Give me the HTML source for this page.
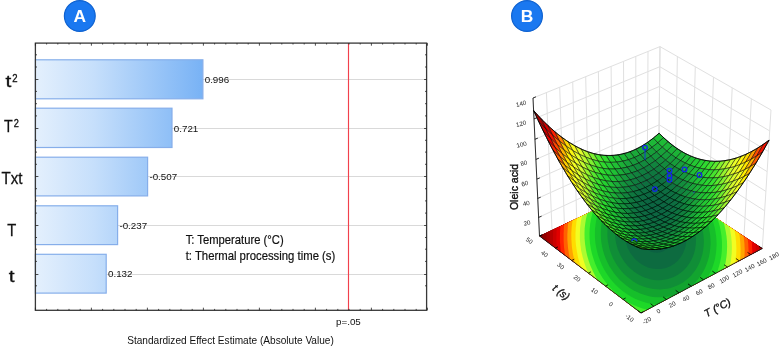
<!DOCTYPE html>
<html><head><meta charset="utf-8"><title>Figure</title>
<style>html,body{margin:0;padding:0;background:#fff}svg{display:block}</style></head>
<body><svg width="779" height="346" viewBox="0 0 779 346">
<rect width="779" height="346" fill="#fff"/>
<path d="M539.5,236.0 L658.5,180.0 L762.3,248.5 M538.6,217.4 L658.7,161.9 L763.5,229.8 M537.7,198.4 L658.9,143.5 L764.7,210.8 M536.8,179.1 L659.2,124.8 L765.9,191.4 M535.9,159.4 L659.4,105.8 L767.1,171.6 M534.9,139.3 L659.6,86.4 L768.4,151.5 M534.0,118.9 L659.8,66.7 L769.7,130.9 M533.0,98.0 L660.0,46.6 L771.0,110.0 M539.5,236.0 L533.0,98.0 M552.0,230.1 L546.4,92.6 M564.4,224.3 L559.7,87.2 M576.7,218.5 L572.7,81.9 M588.8,212.8 L585.7,76.7 M600.7,207.2 L598.4,71.5 M612.5,201.6 L611.1,66.4 M624.2,196.1 L623.5,61.4 M635.8,190.7 L635.8,56.4 M647.2,185.3 L648.0,51.5 M658.5,180.0 L660.0,46.6 M762.3,248.5 L771.0,110.0 M744.0,236.4 L751.4,98.8 M726.1,224.6 L732.2,87.8 M708.7,213.1 L713.5,77.2 M691.6,201.8 L695.3,66.7 M674.9,190.8 L677.4,56.6 M658.5,180.0 L660.0,46.6" fill="none" stroke="#e0e0e0" stroke-width="1"/>
<clipPath id="fc"><polygon points="641.0,313.0 762.3,248.5 658.5,180.0 539.5,236.0"/></clipPath>
<g clip-path="url(#fc)">
<polygon points="641.0,313.0 762.3,248.5 658.5,180.0 539.5,236.0" fill="#880000"/>
<polygon points="669.1,387.8 659.2,387.6 649.3,386.6 639.4,384.7 629.7,382.0 620.1,378.4 610.9,374.2 601.9,369.1 593.3,363.4 585.1,357.1 577.4,350.1 570.3,342.6 563.6,334.7 557.6,326.3 552.1,317.5 547.3,308.5 543.2,299.2 539.6,289.8 536.8,280.3 534.5,270.6 533.0,261.0 532.0,251.4 531.7,241.9 532.0,232.6 532.9,223.4 534.3,214.5 536.3,205.8 538.8,197.3 541.9,189.2 545.4,181.5 549.3,174.1 553.7,167.0 558.5,160.4 563.6,154.3 569.1,148.5 574.9,143.2 581.0,138.4 587.4,134.0 594.0,130.1 600.8,126.7 607.9,123.8 615.0,121.4 622.4,119.5 629.8,118.2 637.3,117.3 644.9,116.9 652.6,117.0 660.2,117.7 667.9,118.8 675.5,120.5 683.0,122.6 690.5,125.3 697.9,128.4 705.1,132.0 712.2,136.2 719.1,140.8 725.8,145.8 732.2,151.3 738.4,157.3 744.2,163.7 749.8,170.5 755.0,177.7 759.8,185.2 764.2,193.1 768.2,201.4 771.7,209.9 774.7,218.7 777.2,227.8 779.1,237.0 780.5,246.4 781.2,255.9 781.4,265.5 780.9,275.1 779.8,284.7 778.0,294.2 775.5,303.5 772.4,312.6 768.6,321.5 764.1,330.1 759.0,338.3 753.2,346.0 746.9,353.3 739.9,359.9 732.5,366.0 724.5,371.4 716.1,376.1 707.2,380.1 698.1,383.2 688.6,385.6 678.9,387.1" fill="#880000"/>
<polygon points="668.8,383.8 659.1,383.6 649.4,382.6 639.8,380.8 630.3,378.2 621.0,374.8 612.0,370.6 603.2,365.7 594.9,360.1 586.9,354.0 579.4,347.2 572.4,339.9 565.9,332.2 560.0,324.0 554.7,315.5 550.0,306.7 545.9,297.7 542.4,288.5 539.6,279.2 537.4,269.8 535.8,260.4 534.9,251.1 534.5,241.8 534.8,232.6 535.6,223.7 537.0,214.9 538.9,206.4 541.4,198.1 544.3,190.2 547.7,182.6 551.6,175.4 555.9,168.5 560.5,162.0 565.5,155.9 570.9,150.3 576.6,145.1 582.6,140.4 588.8,136.1 595.3,132.3 601.9,128.9 608.8,126.1 615.9,123.7 623.0,121.9 630.3,120.5 637.7,119.6 645.1,119.2 652.6,119.4 660.1,120.0 667.6,121.1 675.1,122.8 682.5,124.9 689.8,127.5 697.0,130.6 704.1,134.1 711.0,138.2 717.8,142.7 724.3,147.7 730.6,153.1 736.6,158.9 742.4,165.2 747.8,171.8 752.9,178.9 757.6,186.3 761.9,194.0 765.7,202.1 769.1,210.5 772.0,219.1 774.5,227.9 776.3,237.0 777.6,246.1 778.3,255.4 778.5,264.8 778.0,274.2 776.8,283.5 775.0,292.7 772.6,301.8 769.5,310.8 765.8,319.4 761.4,327.7 756.4,335.7 750.8,343.2 744.6,350.3 737.8,356.8 730.5,362.7 722.7,367.9 714.5,372.5 705.9,376.3 697.0,379.4 687.8,381.7 678.3,383.2" fill="#880000"/>
<polygon points="668.4,379.8 659.0,379.6 649.6,378.6 640.3,376.9 631.0,374.3 622.0,371.0 613.2,367.0 604.6,362.2 596.5,356.8 588.7,350.8 581.4,344.3 574.5,337.2 568.2,329.7 562.4,321.7 557.2,313.5 552.6,304.9 548.6,296.1 545.2,287.2 542.4,278.1 540.3,268.9 538.7,259.8 537.8,250.7 537.4,241.6 537.6,232.7 538.4,223.9 539.8,215.4 541.6,207.0 544.0,199.0 546.8,191.2 550.2,183.8 553.9,176.7 558.1,170.0 562.6,163.6 567.5,157.7 572.7,152.1 578.3,147.0 584.1,142.4 590.2,138.2 596.6,134.5 603.1,131.2 609.8,128.4 616.7,126.1 623.7,124.2 630.8,122.9 638.1,122.0 645.3,121.7 652.7,121.8 660.0,122.4 667.3,123.5 674.6,125.1 681.9,127.2 689.1,129.8 696.1,132.8 703.1,136.3 709.8,140.3 716.4,144.7 722.8,149.5 729.0,154.8 734.9,160.6 740.5,166.7 745.8,173.2 750.7,180.1 755.3,187.4 759.5,195.0 763.2,202.8 766.5,211.0 769.3,219.4 771.7,228.1 773.5,236.9 774.7,245.9 775.4,254.9 775.5,264.1 775.0,273.2 773.8,282.3 772.1,291.3 769.7,300.2 766.6,308.8 763.0,317.2 758.7,325.4 753.8,333.1 748.3,340.4 742.2,347.3 735.6,353.6 728.5,359.3 720.9,364.4 712.9,368.8 704.6,372.5 695.9,375.5 686.9,377.7 677.7,379.2" fill="#880000"/>
<polygon points="668.0,375.7 658.9,375.5 649.8,374.6 640.7,372.9 631.7,370.4 622.9,367.2 614.3,363.3 606.1,358.7 598.1,353.4 590.5,347.6 583.4,341.3 576.7,334.4 570.6,327.1 564.9,319.4 559.9,311.4 555.3,303.0 551.4,294.5 548.1,285.8 545.4,277.0 543.2,268.1 541.7,259.1 540.7,250.3 540.4,241.4 540.6,232.7 541.3,224.2 542.6,215.8 544.4,207.7 546.7,199.8 549.4,192.3 552.6,185.0 556.3,178.0 560.3,171.5 564.8,165.3 569.5,159.4 574.6,154.0 580.1,149.0 585.7,144.5 591.7,140.4 597.9,136.7 604.3,133.5 610.8,130.8 617.6,128.5 624.4,126.7 631.4,125.4 638.4,124.5 645.6,124.2 652.7,124.3 659.9,124.9 667.1,126.0 674.2,127.6 681.3,129.6 688.3,132.1 695.2,135.1 702.0,138.5 708.6,142.4 715.0,146.7 721.3,151.5 727.3,156.7 733.0,162.3 738.5,168.3 743.6,174.7 748.5,181.4 752.9,188.5 757.0,195.9 760.6,203.6 763.8,211.6 766.6,219.8 768.8,228.2 770.5,236.8 771.7,245.6 772.3,254.4 772.4,263.3 771.9,272.2 770.8,281.1 769.0,289.8 766.7,298.4 763.7,306.9 760.1,315.0 755.9,322.9 751.1,330.4 745.8,337.5 739.9,344.2 733.4,350.3 726.5,355.8 719.1,360.8 711.3,365.1 703.2,368.7 694.7,371.6 686.0,373.7 677.1,375.1" fill="#880000"/>
<polygon points="667.7,371.5 658.8,371.4 649.9,370.5 641.1,368.8 632.4,366.4 623.9,363.3 615.5,359.5 607.5,355.1 599.8,350.0 592.4,344.4 585.5,338.2 579.0,331.5 573.0,324.5 567.5,317.0 562.5,309.2 558.1,301.1 554.3,292.9 551.0,284.4 548.3,275.8 546.2,267.2 544.7,258.5 543.8,249.8 543.4,241.3 543.6,232.8 544.3,224.5 545.5,216.3 547.2,208.4 549.4,200.7 552.1,193.3 555.2,186.2 558.7,179.5 562.7,173.0 567.0,167.0 571.6,161.3 576.6,156.0 581.9,151.1 587.4,146.6 593.2,142.6 599.2,139.0 605.5,135.9 611.9,133.2 618.4,131.0 625.1,129.2 632.0,127.9 638.8,127.1 645.8,126.8 652.8,126.9 659.8,127.5 666.8,128.5 673.8,130.1 680.7,132.1 687.5,134.5 694.3,137.4 700.9,140.8 707.3,144.6 713.6,148.8 719.7,153.5 725.5,158.6 731.1,164.0 736.5,169.9 741.5,176.1 746.2,182.7 750.5,189.7 754.4,196.9 758.0,204.4 761.1,212.2 763.7,220.2 765.9,228.4 767.5,236.8 768.6,245.3 769.2,253.9 769.3,262.5 768.7,271.2 767.6,279.8 765.9,288.3 763.6,296.7 760.7,304.9 757.2,312.8 753.1,320.4 748.4,327.7 743.2,334.6 737.4,341.0 731.2,346.9 724.4,352.3 717.3,357.1 709.7,361.3 701.8,364.7 693.6,367.5 685.1,369.6 676.4,371.0" fill="#930000"/>
<polygon points="667.3,367.3 658.7,367.1 650.1,366.2 641.6,364.6 633.1,362.3 624.8,359.3 616.8,355.7 609.0,351.4 601.5,346.5 594.3,341.0 587.6,335.1 581.3,328.6 575.5,321.8 570.1,314.6 565.3,307.0 561.0,299.2 557.2,291.2 554.0,283.0 551.4,274.6 549.4,266.2 547.8,257.8 546.9,249.4 546.5,241.1 546.6,232.9 547.3,224.8 548.5,216.8 550.1,209.1 552.2,201.6 554.8,194.4 557.8,187.5 561.3,180.9 565.1,174.6 569.3,168.7 573.8,163.2 578.6,158.0 583.7,153.2 589.1,148.9 594.8,144.9 600.6,141.4 606.7,138.4 613.0,135.8 619.4,133.6 625.9,131.9 632.5,130.6 639.3,129.8 646.0,129.4 652.9,129.6 659.7,130.1 666.5,131.2 673.3,132.7 680.1,134.6 686.7,137.0 693.3,139.9 699.7,143.1 706.0,146.9 712.1,151.0 718.1,155.6 723.8,160.5 729.2,165.9 734.4,171.6 739.2,177.7 743.8,184.1 748.0,190.8 751.8,197.9 755.2,205.2 758.2,212.8 760.8,220.6 762.8,228.6 764.4,236.7 765.5,245.0 766.0,253.4 766.1,261.8 765.5,270.2 764.4,278.5 762.7,286.8 760.4,294.9 757.6,302.8 754.2,310.5 750.2,317.9 745.6,324.9 740.5,331.6 734.9,337.8 728.9,343.5 722.3,348.7 715.4,353.3 708.0,357.4 700.3,360.7 692.4,363.4 684.2,365.4 675.8,366.7" fill="#a50000"/>
<polygon points="666.9,362.9 658.6,362.8 650.3,361.9 642.0,360.4 633.9,358.1 625.8,355.3 618.0,351.7 610.5,347.6 603.2,342.9 596.3,337.6 589.8,331.9 583.7,325.7 578.0,319.0 572.8,312.1 568.1,304.8 563.9,297.2 560.3,289.4 557.1,281.5 554.6,273.4 552.5,265.3 551.1,257.1 550.1,249.0 549.7,240.9 549.8,232.9 550.4,225.0 551.5,217.3 553.1,209.8 555.2,202.6 557.7,195.6 560.6,188.8 563.9,182.4 567.6,176.3 571.6,170.5 576.0,165.1 580.7,160.1 585.7,155.4 590.9,151.2 596.4,147.3 602.1,143.9 608.0,140.9 614.1,138.4 620.3,136.3 626.7,134.6 633.1,133.3 639.7,132.6 646.3,132.2 652.9,132.3 659.6,132.9 666.2,133.9 672.9,135.4 679.4,137.3 685.9,139.6 692.3,142.4 698.6,145.6 704.7,149.2 710.6,153.3 716.4,157.7 721.9,162.5 727.2,167.7 732.2,173.3 736.9,179.2 741.3,185.5 745.4,192.1 749.1,198.9 752.4,206.1 755.3,213.4 757.7,221.0 759.7,228.8 761.2,236.7 762.3,244.7 762.8,252.8 762.7,261.0 762.2,269.1 761.1,277.2 759.4,285.2 757.2,293.0 754.4,300.7 751.1,308.1 747.2,315.3 742.8,322.1 737.8,328.5 732.4,334.5 726.5,340.0 720.2,345.0 713.4,349.5 706.3,353.4 698.9,356.6 691.2,359.2 683.2,361.1 675.1,362.4" fill="#b70000"/>
<polygon points="666.5,358.5 658.5,358.3 650.5,357.5 642.5,356.0 634.6,353.9 626.9,351.1 619.3,347.7 612.0,343.7 605.0,339.2 598.3,334.1 592.0,328.6 586.1,322.6 580.6,316.2 575.5,309.5 571.0,302.5 566.9,295.2 563.4,287.7 560.3,280.0 557.8,272.2 555.8,264.3 554.4,256.4 553.4,248.5 553.0,240.7 553.1,233.0 553.7,225.3 554.7,217.9 556.2,210.6 558.2,203.5 560.6,196.7 563.4,190.2 566.6,183.9 570.1,178.0 574.1,172.4 578.3,167.1 582.8,162.2 587.7,157.7 592.8,153.6 598.1,149.8 603.6,146.5 609.4,143.6 615.3,141.1 621.3,139.0 627.5,137.4 633.8,136.2 640.1,135.4 646.5,135.1 653.0,135.2 659.5,135.7 665.9,136.7 672.4,138.2 678.7,140.0 685.1,142.3 691.3,145.0 697.3,148.1 703.3,151.6 709.0,155.6 714.6,159.9 720.0,164.6 725.1,169.7 730.0,175.1 734.5,180.9 738.8,187.0 742.7,193.3 746.3,200.0 749.5,206.9 752.2,214.1 754.6,221.4 756.5,229.0 758.0,236.6 758.9,244.4 759.4,252.2 759.3,260.1 758.8,268.0 757.7,275.8 756.0,283.5 753.9,291.1 751.2,298.5 747.9,305.7 744.1,312.6 739.8,319.1 735.1,325.3 729.8,331.1 724.1,336.4 718.0,341.3 711.4,345.6 704.6,349.3 697.4,352.4 689.9,354.9 682.3,356.8 674.4,358.0" fill="#cc0000"/>
<polygon points="666.1,353.9 658.4,353.8 650.6,353.0 643.0,351.6 635.4,349.5 627.9,346.8 620.6,343.6 613.6,339.8 606.8,335.4 600.4,330.5 594.3,325.2 588.6,319.5 583.2,313.3 578.4,306.8 574.0,300.1 570.0,293.0 566.6,285.8 563.6,278.4 561.2,270.9 559.2,263.3 557.8,255.7 556.8,248.1 556.4,240.5 556.5,233.0 557.0,225.7 558.0,218.4 559.4,211.4 561.3,204.6 563.6,197.9 566.3,191.6 569.4,185.5 572.8,179.8 576.6,174.3 580.7,169.2 585.1,164.5 589.7,160.1 594.7,156.0 599.8,152.4 605.2,149.2 610.7,146.3 616.5,143.9 622.3,141.9 628.3,140.3 634.4,139.1 640.6,138.4 646.8,138.1 653.1,138.2 659.4,138.7 665.6,139.7 671.9,141.1 678.0,142.9 684.2,145.1 690.2,147.7 696.1,150.7 701.8,154.2 707.4,158.0 712.8,162.2 718.0,166.8 722.9,171.7 727.6,177.0 732.1,182.6 736.2,188.5 739.9,194.7 743.4,201.1 746.4,207.8 749.1,214.7 751.4,221.9 753.2,229.1 754.6,236.6 755.5,244.1 755.9,251.7 755.8,259.3 755.3,266.9 754.2,274.4 752.6,281.9 750.5,289.2 747.8,296.3 744.7,303.2 741.0,309.8 736.8,316.1 732.2,322.1 727.1,327.7 721.6,332.8 715.7,337.4 709.4,341.5 702.8,345.1 695.8,348.1 688.7,350.5 681.3,352.3 673.7,353.4" fill="#e20000"/>
<polygon points="665.7,349.2 658.3,349.1 650.8,348.4 643.5,347.0 636.2,345.0 629.0,342.5 622.0,339.3 615.2,335.7 608.7,331.5 602.5,326.8 596.6,321.7 591.1,316.2 586.0,310.3 581.3,304.1 577.0,297.6 573.2,290.9 569.9,283.9 567.0,276.8 564.6,269.6 562.7,262.3 561.3,254.9 560.4,247.6 559.9,240.3 560.0,233.1 560.4,226.0 561.4,219.0 562.8,212.2 564.5,205.6 566.7,199.2 569.3,193.1 572.3,187.2 575.6,181.6 579.2,176.3 583.2,171.4 587.4,166.8 591.9,162.5 596.7,158.6 601.6,155.1 606.8,152.0 612.2,149.2 617.7,146.9 623.4,144.9 629.2,143.4 635.1,142.2 641.1,141.5 647.1,141.2 653.2,141.3 659.2,141.8 665.3,142.7 671.3,144.1 677.3,145.8 683.2,148.0 689.0,150.5 694.7,153.5 700.3,156.8 705.7,160.5 710.9,164.6 715.9,169.0 720.7,173.8 725.2,178.9 729.5,184.3 733.4,190.0 737.1,196.0 740.4,202.3 743.3,208.7 745.9,215.4 748.0,222.3 749.8,229.3 751.1,236.5 751.9,243.7 752.3,251.1 752.2,258.4 751.6,265.7 750.6,273.0 749.0,280.1 746.9,287.1 744.4,294.0 741.3,300.6 737.8,307.0 733.7,313.0 729.3,318.8 724.4,324.1 719.0,329.0 713.3,333.4 707.3,337.4 700.9,340.8 694.3,343.7 687.4,346.0 680.3,347.7 673.0,348.8" fill="#ff2400"/>
<polygon points="665.2,344.4 658.1,344.3 651.0,343.6 644.0,342.3 637.0,340.4 630.1,337.9 623.4,335.0 616.9,331.5 610.7,327.5 604.7,323.0 599.0,318.2 593.7,312.9 588.8,307.3 584.3,301.3 580.2,295.1 576.5,288.6 573.3,282.0 570.5,275.2 568.2,268.2 566.3,261.2 565.0,254.2 564.0,247.1 563.6,240.1 563.6,233.2 564.0,226.3 564.9,219.6 566.2,213.0 567.9,206.7 570.0,200.5 572.5,194.6 575.3,188.9 578.5,183.5 582.0,178.5 585.8,173.7 589.8,169.2 594.2,165.1 598.7,161.3 603.5,157.9 608.5,154.9 613.7,152.2 619.0,149.9 624.5,148.0 630.1,146.5 635.8,145.4 641.6,144.7 647.4,144.4 653.2,144.5 659.1,145.0 665.0,145.9 670.8,147.2 676.6,148.9 682.3,151.0 687.9,153.5 693.4,156.3 698.7,159.6 703.9,163.1 708.9,167.1 713.8,171.4 718.4,176.0 722.7,180.9 726.8,186.1 730.6,191.7 734.1,197.4 737.2,203.5 740.0,209.7 742.5,216.2 744.5,222.8 746.2,229.6 747.4,236.4 748.2,243.4 748.6,250.4 748.4,257.5 747.9,264.5 746.8,271.4 745.3,278.3 743.3,285.1 740.8,291.6 737.8,298.0 734.4,304.1 730.5,309.9 726.2,315.3 721.5,320.4 716.4,325.1 710.9,329.3 705.1,333.1 699.0,336.4 692.6,339.1 686.0,341.3 679.2,342.9 672.3,344.0" fill="#ff6100"/>
<polygon points="664.8,339.4 658.0,339.3 651.2,338.6 644.5,337.4 637.8,335.6 631.2,333.3 624.8,330.5 618.6,327.1 612.7,323.3 607.0,319.1 601.6,314.5 596.5,309.4 591.8,304.1 587.4,298.4 583.5,292.5 579.9,286.3 576.8,279.9 574.1,273.4 571.9,266.8 570.1,260.1 568.8,253.4 567.9,246.6 567.4,239.9 567.4,233.2 567.8,226.7 568.6,220.2 569.8,213.9 571.4,207.8 573.4,201.9 575.8,196.2 578.5,190.7 581.5,185.6 584.8,180.7 588.5,176.0 592.4,171.8 596.5,167.8 600.9,164.1 605.5,160.9 610.3,157.9 615.3,155.3 620.4,153.1 625.7,151.3 631.1,149.9 636.5,148.8 642.1,148.1 647.7,147.8 653.3,147.9 659.0,148.4 664.6,149.3 670.2,150.5 675.8,152.2 681.2,154.2 686.6,156.6 691.9,159.3 697.1,162.4 702.1,165.9 706.9,169.7 711.5,173.8 715.9,178.3 720.1,183.0 724.0,188.1 727.6,193.4 731.0,198.9 734.0,204.7 736.6,210.7 739.0,216.9 740.9,223.3 742.5,229.8 743.6,236.4 744.4,243.0 744.7,249.8 744.5,256.5 744.0,263.2 742.9,269.9 741.4,276.5 739.5,282.9 737.1,289.2 734.2,295.2 731.0,301.0 727.2,306.5 723.1,311.8 718.6,316.6 713.7,321.1 708.5,325.1 702.9,328.7 697.1,331.8 691.0,334.4 684.6,336.5 678.1,338.0 671.5,339.0" fill="#ffa400"/>
<polygon points="664.3,334.3 657.9,334.2 651.4,333.5 645.0,332.3 638.7,330.7 632.4,328.5 626.3,325.8 620.4,322.6 614.7,319.0 609.3,315.0 604.2,310.6 599.3,305.8 594.8,300.8 590.6,295.4 586.9,289.7 583.5,283.9 580.5,277.8 577.9,271.6 575.8,265.3 574.0,258.9 572.7,252.5 571.8,246.1 571.4,239.7 571.3,233.3 571.7,227.0 572.4,220.9 573.6,214.8 575.1,209.0 577.0,203.3 579.2,197.9 581.8,192.6 584.7,187.7 587.9,183.0 591.3,178.5 595.0,174.4 599.0,170.6 603.2,167.1 607.6,163.9 612.2,161.1 617.0,158.7 621.9,156.5 626.9,154.8 632.1,153.4 637.3,152.4 642.6,151.7 648.0,151.4 653.4,151.5 658.8,152.0 664.2,152.8 669.6,154.0 674.9,155.6 680.2,157.5 685.3,159.8 690.4,162.5 695.3,165.5 700.1,168.8 704.7,172.4 709.1,176.4 713.3,180.7 717.3,185.2 721.1,190.1 724.5,195.2 727.7,200.5 730.5,206.0 733.1,211.8 735.3,217.7 737.1,223.8 738.6,230.0 739.7,236.3 740.3,242.7 740.6,249.1 740.5,255.5 739.9,261.9 738.9,268.3 737.4,274.5 735.5,280.6 733.2,286.6 730.5,292.3 727.4,297.9 723.8,303.1 719.9,308.1 715.5,312.7 710.9,316.9 705.9,320.7 700.6,324.1 695.0,327.0 689.2,329.5 683.2,331.5 677.0,332.9 670.7,333.9" fill="#ffdc00"/>
<polygon points="663.9,328.9 657.8,328.8 651.7,328.2 645.6,327.1 639.6,325.5 633.7,323.4 627.9,320.9 622.3,317.9 616.9,314.5 611.8,310.8 606.9,306.6 602.3,302.1 598.0,297.3 594.0,292.2 590.4,286.9 587.2,281.3 584.3,275.6 581.9,269.7 579.8,263.8 578.1,257.7 576.9,251.6 576.0,245.5 575.5,239.4 575.5,233.4 575.8,227.4 576.5,221.5 577.6,215.8 579.0,210.2 580.8,204.8 582.9,199.6 585.3,194.6 588.0,189.9 591.0,185.4 594.3,181.2 597.9,177.2 601.6,173.6 605.6,170.2 609.8,167.2 614.2,164.5 618.7,162.1 623.4,160.1 628.2,158.4 633.1,157.1 638.1,156.1 643.2,155.5 648.3,155.2 653.5,155.3 658.7,155.8 663.8,156.6 668.9,157.7 674.0,159.2 679.0,161.1 684.0,163.3 688.8,165.8 693.5,168.7 698.0,171.9 702.4,175.3 706.6,179.1 710.6,183.2 714.4,187.6 718.0,192.2 721.2,197.0 724.2,202.1 726.9,207.4 729.3,212.9 731.4,218.5 733.1,224.3 734.5,230.2 735.5,236.2 736.1,242.3 736.4,248.4 736.2,254.5 735.6,260.5 734.6,266.6 733.2,272.5 731.4,278.3 729.2,283.9 726.6,289.4 723.6,294.6 720.2,299.5 716.5,304.2 712.4,308.5 707.9,312.5 703.2,316.1 698.2,319.3 692.9,322.1 687.4,324.4 681.7,326.3 675.9,327.7 669.9,328.5" fill="#f2fd22"/>
<polygon points="663.4,323.3 657.6,323.2 651.9,322.7 646.2,321.6 640.5,320.1 634.9,318.2 629.5,315.8 624.2,313.0 619.2,309.9 614.3,306.3 609.7,302.4 605.4,298.2 601.3,293.7 597.6,288.9 594.2,283.9 591.1,278.7 588.4,273.3 586.0,267.8 584.1,262.1 582.5,256.4 581.2,250.7 580.4,244.9 579.9,239.2 579.9,233.4 580.1,227.8 580.8,222.3 581.8,216.8 583.1,211.5 584.7,206.4 586.7,201.5 589.0,196.8 591.6,192.3 594.4,188.0 597.5,184.0 600.8,180.2 604.4,176.7 608.2,173.6 612.2,170.7 616.3,168.1 620.6,165.9 625.1,163.9 629.6,162.3 634.3,161.0 639.0,160.1 643.8,159.5 648.7,159.3 653.6,159.3 658.5,159.8 663.4,160.5 668.3,161.6 673.1,163.1 677.8,164.8 682.5,166.9 687.1,169.3 691.5,172.1 695.8,175.1 700.0,178.4 704.0,182.0 707.8,185.9 711.3,190.0 714.7,194.4 717.8,199.0 720.6,203.9 723.1,208.9 725.4,214.1 727.3,219.4 728.9,224.9 730.2,230.5 731.1,236.1 731.7,241.9 731.9,247.6 731.7,253.4 731.1,259.1 730.2,264.8 728.8,270.3 727.1,275.8 725.0,281.1 722.5,286.2 719.7,291.1 716.5,295.8 712.9,300.2 709.0,304.2 704.9,308.0 700.4,311.3 695.7,314.3 690.7,316.9 685.5,319.1 680.2,320.9 674.7,322.1 669.0,323.0" fill="#acfb30"/>
<polygon points="662.8,317.5 657.5,317.4 652.1,316.8 646.8,315.9 641.5,314.5 636.3,312.7 631.2,310.5 626.3,307.9 621.6,304.9 617.0,301.6 612.7,298.0 608.6,294.1 604.8,289.9 601.3,285.4 598.1,280.7 595.2,275.9 592.7,270.8 590.4,265.7 588.6,260.4 587.0,255.1 585.9,249.7 585.1,244.3 584.6,238.9 584.5,233.5 584.7,228.2 585.3,223.0 586.2,217.9 587.4,212.9 589.0,208.1 590.8,203.5 592.9,199.0 595.3,194.8 598.0,190.7 600.9,186.9 604.0,183.4 607.4,180.1 610.9,177.1 614.7,174.4 618.6,172.0 622.6,169.8 626.8,168.0 631.1,166.5 635.5,165.3 640.0,164.4 644.5,163.8 649.1,163.6 653.7,163.7 658.3,164.1 662.9,164.8 667.5,165.8 672.1,167.2 676.5,168.9 680.9,170.8 685.3,173.1 689.4,175.7 693.5,178.6 697.4,181.7 701.1,185.1 704.7,188.8 708.0,192.7 711.2,196.8 714.1,201.2 716.7,205.7 719.1,210.4 721.2,215.3 723.0,220.3 724.5,225.5 725.6,230.7 726.5,236.1 727.0,241.4 727.1,246.8 726.9,252.2 726.4,257.6 725.5,262.9 724.2,268.1 722.5,273.2 720.5,278.1 718.2,282.9 715.5,287.5 712.5,291.8 709.2,295.9 705.5,299.7 701.6,303.2 697.4,306.3 693.0,309.1 688.4,311.5 683.5,313.5 678.5,315.2 673.4,316.3 668.1,317.1" fill="#44ef2c"/>
<polygon points="662.3,311.2 657.3,311.1 652.4,310.6 647.4,309.8 642.5,308.5 637.7,306.8 633.0,304.8 628.5,302.4 624.1,299.7 619.9,296.7 615.9,293.3 612.1,289.7 608.5,285.8 605.3,281.7 602.3,277.4 599.6,272.9 597.2,268.2 595.1,263.5 593.4,258.6 591.9,253.6 590.8,248.6 590.0,243.6 589.6,238.6 589.5,233.6 589.7,228.7 590.2,223.8 591.0,219.1 592.1,214.4 593.5,210.0 595.2,205.6 597.2,201.4 599.4,197.5 601.9,193.7 604.6,190.2 607.5,186.8 610.6,183.8 613.9,181.0 617.4,178.4 621.0,176.1 624.8,174.1 628.7,172.4 632.7,171.0 636.8,169.8 641.0,169.0 645.2,168.5 649.5,168.3 653.8,168.3 658.1,168.7 662.4,169.4 666.7,170.4 671.0,171.6 675.2,173.2 679.3,175.1 683.3,177.2 687.2,179.6 691.0,182.3 694.6,185.2 698.1,188.4 701.4,191.9 704.5,195.5 707.4,199.4 710.1,203.4 712.5,207.7 714.7,212.1 716.6,216.7 718.3,221.3 719.7,226.1 720.7,231.0 721.5,236.0 721.9,241.0 722.0,246.0 721.8,251.0 721.3,255.9 720.4,260.9 719.2,265.7 717.7,270.4 715.8,275.0 713.6,279.4 711.1,283.6 708.3,287.6 705.2,291.4 701.8,294.9 698.2,298.1 694.3,301.0 690.2,303.5 685.9,305.8 681.4,307.6 676.8,309.1 672.0,310.2 667.2,310.9" fill="#1dd828"/>
<polygon points="661.7,304.6 657.2,304.5 652.6,304.0 648.1,303.2 643.7,302.1 639.3,300.6 635.0,298.7 630.8,296.6 626.8,294.1 622.9,291.3 619.3,288.3 615.8,285.0 612.5,281.5 609.5,277.7 606.8,273.8 604.3,269.7 602.1,265.4 600.2,261.1 598.5,256.6 597.2,252.1 596.2,247.5 595.4,242.9 595.0,238.3 594.9,233.7 595.0,229.2 595.5,224.7 596.2,220.3 597.2,216.1 598.5,211.9 600.0,207.9 601.8,204.1 603.8,200.4 606.1,196.9 608.5,193.7 611.2,190.6 614.1,187.7 617.1,185.1 620.3,182.8 623.7,180.7 627.2,178.8 630.7,177.2 634.4,175.9 638.2,174.8 642.1,174.1 646.0,173.6 650.0,173.4 653.9,173.4 657.9,173.8 661.9,174.4 665.9,175.3 669.8,176.5 673.6,178.0 677.4,179.7 681.1,181.7 684.7,183.9 688.2,186.4 691.6,189.1 694.7,192.1 697.8,195.2 700.6,198.6 703.3,202.2 705.7,205.9 708.0,209.8 710.0,213.9 711.7,218.1 713.2,222.4 714.5,226.8 715.4,231.3 716.1,235.9 716.5,240.5 716.6,245.1 716.3,249.6 715.8,254.2 715.0,258.7 713.9,263.1 712.4,267.4 710.7,271.6 708.7,275.6 706.4,279.5 703.8,283.1 700.9,286.5 697.8,289.7 694.5,292.6 690.9,295.3 687.2,297.6 683.3,299.6 679.2,301.3 674.9,302.6 670.6,303.6 666.2,304.3" fill="#16bf2a"/>
<polygon points="661.0,297.3 657.0,297.3 652.9,296.9 648.9,296.2 644.9,295.1 640.9,293.8 637.1,292.1 633.3,290.2 629.7,288.0 626.3,285.5 623.0,282.8 619.8,279.9 616.9,276.7 614.2,273.4 611.7,269.8 609.4,266.2 607.4,262.3 605.7,258.4 604.2,254.4 603.0,250.4 602.0,246.2 601.3,242.1 600.9,237.9 600.8,233.8 600.9,229.7 601.3,225.7 601.9,221.7 602.8,217.9 603.9,214.1 605.3,210.5 606.9,207.0 608.7,203.7 610.7,200.5 613.0,197.5 615.4,194.7 618.0,192.1 620.7,189.8 623.6,187.6 626.6,185.7 629.8,184.0 633.0,182.5 636.4,181.3 639.8,180.4 643.3,179.7 646.9,179.2 650.5,179.0 654.1,179.1 657.7,179.4 661.3,180.0 664.9,180.8 668.5,181.9 672.0,183.2 675.4,184.8 678.7,186.6 682.0,188.6 685.1,190.9 688.2,193.4 691.1,196.1 693.8,198.9 696.4,202.0 698.8,205.3 701.0,208.7 703.0,212.2 704.8,215.9 706.3,219.7 707.7,223.6 708.8,227.6 709.6,231.7 710.2,235.8 710.5,239.9 710.6,244.0 710.3,248.2 709.8,252.3 709.1,256.3 708.0,260.3 706.7,264.1 705.1,267.9 703.3,271.5 701.2,274.9 698.9,278.2 696.3,281.3 693.5,284.1 690.5,286.7 687.3,289.1 683.9,291.1 680.4,292.9 676.7,294.4 672.9,295.6 669.0,296.5 665.1,297.1" fill="#12a42f"/>
<polygon points="660.3,289.4 656.8,289.3 653.2,289.0 649.7,288.3 646.2,287.4 642.8,286.3 639.4,284.9 636.2,283.2 633.0,281.3 630.0,279.1 627.1,276.8 624.3,274.2 621.7,271.4 619.4,268.5 617.2,265.5 615.2,262.3 613.4,258.9 611.8,255.5 610.5,252.0 609.4,248.4 608.6,244.8 607.9,241.2 607.5,237.6 607.4,233.9 607.5,230.3 607.8,226.8 608.3,223.3 609.1,219.9 610.1,216.6 611.2,213.4 612.6,210.3 614.2,207.3 616.0,204.5 617.9,201.9 620.1,199.4 622.3,197.1 624.8,195.0 627.3,193.1 630.0,191.4 632.8,189.9 635.6,188.6 638.6,187.5 641.6,186.7 644.7,186.0 647.9,185.6 651.0,185.5 654.2,185.5 657.4,185.8 660.6,186.3 663.8,187.1 666.9,188.0 670.0,189.2 673.1,190.6 676.0,192.2 678.9,194.0 681.7,196.0 684.3,198.2 686.9,200.6 689.3,203.2 691.5,205.9 693.6,208.8 695.6,211.8 697.3,214.9 698.9,218.2 700.2,221.5 701.4,225.0 702.3,228.5 703.0,232.0 703.5,235.7 703.8,239.3 703.8,242.9 703.6,246.5 703.2,250.1 702.5,253.7 701.5,257.1 700.4,260.5 699.0,263.8 697.3,266.9 695.5,269.9 693.4,272.7 691.2,275.4 688.7,277.9 686.1,280.1 683.3,282.2 680.3,284.0 677.2,285.5 674.0,286.8 670.7,287.9 667.3,288.7 663.8,289.1" fill="#108e37"/>
<polygon points="659.5,280.2 656.6,280.2 653.6,279.9 650.7,279.4 647.8,278.6 644.9,277.7 642.1,276.5 639.4,275.1 636.7,273.5 634.2,271.8 631.8,269.8 629.5,267.7 627.3,265.4 625.3,263.0 623.5,260.4 621.8,257.7 620.3,255.0 619.0,252.1 617.8,249.2 616.9,246.2 616.1,243.2 615.6,240.2 615.2,237.1 615.1,234.1 615.1,231.1 615.4,228.1 615.8,225.1 616.4,222.3 617.2,219.5 618.2,216.8 619.4,214.1 620.7,211.7 622.2,209.3 623.8,207.0 625.6,204.9 627.5,203.0 629.5,201.2 631.7,199.6 633.9,198.1 636.3,196.8 638.7,195.7 641.2,194.8 643.8,194.1 646.4,193.5 649.0,193.2 651.7,193.1 654.4,193.1 657.1,193.3 659.8,193.8 662.5,194.4 665.2,195.2 667.8,196.2 670.4,197.4 672.8,198.8 675.3,200.3 677.6,202.0 679.9,203.9 682.0,205.9 684.0,208.1 685.9,210.4 687.7,212.8 689.3,215.4 690.7,218.0 692.0,220.8 693.1,223.6 694.1,226.5 694.9,229.5 695.4,232.5 695.8,235.5 696.0,238.6 696.0,241.6 695.8,244.6 695.4,247.6 694.8,250.6 694.0,253.5 693.0,256.3 691.8,259.0 690.4,261.6 688.9,264.1 687.1,266.5 685.2,268.7 683.2,270.7 681.0,272.6 678.6,274.3 676.2,275.8 673.6,277.1 670.9,278.1 668.1,279.0 665.3,279.6 662.4,280.0" fill="#0e7a3c"/>
<polygon points="658.5,269.1 656.3,269.0 654.1,268.8 651.9,268.4 649.7,267.9 647.5,267.2 645.4,266.3 643.3,265.3 641.3,264.1 639.4,262.7 637.5,261.3 635.8,259.7 634.1,258.0 632.6,256.1 631.2,254.2 629.9,252.2 628.8,250.1 627.7,248.0 626.9,245.7 626.1,243.5 625.5,241.2 625.1,238.9 624.8,236.6 624.7,234.2 624.7,231.9 624.8,229.7 625.2,227.4 625.6,225.2 626.2,223.1 626.9,221.0 627.8,219.0 628.8,217.1 629.9,215.2 631.2,213.5 632.5,211.9 634.0,210.4 635.5,209.0 637.2,207.7 638.9,206.6 640.7,205.6 642.6,204.7 644.5,204.0 646.5,203.5 648.5,203.0 650.5,202.8 652.6,202.7 654.7,202.7 656.7,202.9 658.8,203.2 660.9,203.7 662.9,204.3 664.9,205.1 666.9,206.0 668.8,207.1 670.7,208.3 672.5,209.6 674.2,211.1 675.8,212.6 677.4,214.3 678.8,216.1 680.1,218.0 681.3,219.9 682.4,222.0 683.4,224.1 684.3,226.3 685.0,228.5 685.5,230.7 686.0,233.0 686.2,235.3 686.4,237.7 686.3,240.0 686.2,242.3 685.8,244.6 685.4,246.8 684.7,249.0 683.9,251.1 683.0,253.2 682.0,255.1 680.8,257.0 679.4,258.8 678.0,260.4 676.4,262.0 674.7,263.4 673.0,264.6 671.1,265.8 669.1,266.7 667.1,267.5 665.0,268.2 662.9,268.6 660.7,268.9" fill="#0d6b40"/>
<polygon points="657.0,252.7 655.9,252.6 654.7,252.5 653.6,252.3 652.4,252.0 651.3,251.7 650.2,251.2 649.1,250.7 648.1,250.1 647.0,249.4 646.1,248.6 645.2,247.8 644.3,246.9 643.5,246.0 642.7,245.0 642.0,243.9 641.4,242.8 640.9,241.7 640.4,240.6 640.0,239.4 639.7,238.2 639.4,237.0 639.2,235.7 639.2,234.5 639.1,233.3 639.2,232.1 639.4,230.9 639.6,229.7 639.9,228.6 640.3,227.4 640.7,226.4 641.2,225.3 641.8,224.3 642.5,223.4 643.2,222.5 644.0,221.7 644.8,221.0 645.6,220.3 646.6,219.7 647.5,219.1 648.5,218.7 649.6,218.3 650.6,218.0 651.7,217.7 652.8,217.6 653.9,217.5 655.0,217.5 656.1,217.7 657.3,217.8 658.4,218.1 659.5,218.4 660.5,218.9 661.6,219.4 662.6,220.0 663.6,220.6 664.6,221.3 665.5,222.1 666.3,222.9 667.2,223.8 667.9,224.8 668.6,225.8 669.3,226.9 669.8,228.0 670.3,229.1 670.8,230.3 671.1,231.4 671.4,232.6 671.6,233.9 671.7,235.1 671.8,236.3 671.8,237.5 671.7,238.7 671.5,239.9 671.2,241.1 670.8,242.3 670.4,243.4 669.9,244.4 669.4,245.5 668.7,246.4 668.0,247.4 667.2,248.2 666.4,249.0 665.5,249.7 664.6,250.4 663.6,251.0 662.6,251.4 661.5,251.9 660.4,252.2 659.3,252.4 658.2,252.6" fill="#0c6042"/>
</g>
<path d="M533.0,98.0 L539.5,236.0 L641.0,313.0 L762.3,248.5" fill="none" stroke="#1a1a1a" stroke-width="0.9"/>
<path d="M539.5,236.0 l3,-1.2 M538.6,217.4 l3,-1.2 M537.7,198.4 l3,-1.2 M536.8,179.1 l3,-1.2 M535.9,159.4 l3,-1.2 M534.9,139.3 l3,-1.2 M534.0,118.9 l3,-1.2 M533.0,98.0 l3,-1.2 M641.0,313.0 L637.8,310.5 M653.8,306.2 L650.6,303.7 M666.5,299.5 L663.2,297.0 M679.0,292.8 L675.7,290.4 M691.3,286.3 L688.0,283.9 M703.5,279.8 L700.2,277.4 M715.6,273.4 L712.3,271.1 M727.5,267.0 L724.1,264.8 M739.2,260.8 L735.9,258.5 M750.8,254.6 L747.5,252.4 M762.3,248.5 L759.0,246.3 M641.0,313.0 L643.6,311.6 M623.1,299.4 L625.6,298.0 M605.6,286.1 L608.1,284.8 M588.5,273.1 L591.0,271.8 M571.7,260.5 L574.3,259.2 M555.4,248.1 L558.0,246.9 M539.5,236.0 L542.0,234.8" fill="none" stroke="#000" stroke-width="0.8"/>
<g stroke="#000" stroke-width="0.5" stroke-linejoin="round">
<polygon points="657.8,142.8 663.6,137.6 659.1,133.2 653.3,138.1" fill="#20c134"/>
<polygon points="652.0,147.4 657.8,142.8 653.3,138.1 647.5,142.4" fill="#1db737"/>
<polygon points="662.3,147.1 668.1,141.6 663.6,137.6 657.8,142.8" fill="#1ebb36"/>
<polygon points="646.1,151.4 652.0,147.4 647.5,142.4 641.7,146.1" fill="#1bad38"/>
<polygon points="656.5,152.0 662.3,147.1 657.8,142.8 652.0,147.4" fill="#1aab38"/>
<polygon points="666.8,151.1 672.7,145.3 668.1,141.6 662.3,147.1" fill="#1db537"/>
<polygon points="650.7,156.2 656.5,152.0 652.0,147.4 646.1,151.4" fill="#179f3a"/>
<polygon points="640.3,154.7 646.1,151.4 641.7,146.1 635.8,149.2" fill="#19a939"/>
<polygon points="661.0,156.2 666.8,151.1 662.3,147.1 656.5,152.0" fill="#18a23a"/>
<polygon points="671.4,154.6 677.2,148.6 672.7,145.3 666.8,151.1" fill="#1cb237"/>
<polygon points="655.2,160.8 661.0,156.2 656.5,152.0 650.7,156.2" fill="#14953c"/>
<polygon points="644.8,159.9 650.7,156.2 646.1,151.4 640.3,154.7" fill="#15993b"/>
<polygon points="665.6,160.1 671.4,154.6 666.8,151.1 661.0,156.2" fill="#169d3b"/>
<polygon points="634.4,157.5 640.3,154.7 635.8,149.2 629.9,151.7" fill="#1aa939"/>
<polygon points="676.0,157.9 681.9,151.5 677.2,148.6 671.4,154.6" fill="#1cb237"/>
<polygon points="649.3,164.7 655.2,160.8 650.7,156.2 644.8,159.9" fill="#138d3d"/>
<polygon points="659.7,164.9 665.6,160.1 661.0,156.2 655.2,160.8" fill="#138e3d"/>
<polygon points="638.9,163.0 644.8,159.9 640.3,154.7 634.4,157.5" fill="#15973b"/>
<polygon points="670.2,163.6 676.0,157.9 671.4,154.6 665.6,160.1" fill="#169b3b"/>
<polygon points="628.5,159.7 634.4,157.5 629.9,151.7 624.0,153.5" fill="#1baf38"/>
<polygon points="653.9,169.1 659.7,164.9 655.2,160.8 649.3,164.7" fill="#11843e"/>
<polygon points="643.5,168.0 649.3,164.7 644.8,159.9 638.9,163.0" fill="#128a3d"/>
<polygon points="664.3,168.7 670.2,163.6 665.6,160.1 659.7,164.9" fill="#128a3d"/>
<polygon points="680.7,160.7 686.5,154.1 681.9,151.5 676.0,157.9" fill="#1db537"/>
<polygon points="633.0,165.4 638.9,163.0 634.4,157.5 628.5,159.7" fill="#169b3b"/>
<polygon points="674.8,166.7 680.7,160.7 676.0,157.9 670.2,163.6" fill="#169c3b"/>
<polygon points="648.0,172.7 653.9,169.1 649.3,164.7 643.5,168.0" fill="#107f3e"/>
<polygon points="658.5,173.2 664.3,168.7 659.7,164.9 653.9,169.1" fill="#107e3f"/>
<polygon points="622.6,161.2 628.5,159.7 624.0,153.5 618.1,154.8" fill="#1eba36"/>
<polygon points="637.5,170.8 643.5,168.0 638.9,163.0 633.0,165.4" fill="#128b3d"/>
<polygon points="668.9,172.1 674.8,166.7 670.2,163.6 664.3,168.7" fill="#12893d"/>
<polygon points="685.4,163.1 691.2,156.2 686.5,154.1 680.7,160.7" fill="#1ebb36"/>
<polygon points="627.1,167.2 633.0,165.4 628.5,159.7 622.6,161.2" fill="#18a33a"/>
<polygon points="652.6,177.1 658.5,173.2 653.9,169.1 648.0,172.7" fill="#0f773f"/>
<polygon points="679.5,169.4 685.4,163.1 680.7,160.7 674.8,166.7" fill="#17a03a"/>
<polygon points="642.1,175.7 648.0,172.7 643.5,168.0 637.5,170.8" fill="#107e3f"/>
<polygon points="663.1,176.9 668.9,172.1 664.3,168.7 658.5,173.2" fill="#107c3f"/>
<polygon points="631.6,172.9 637.5,170.8 633.0,165.4 627.1,167.2" fill="#13913c"/>
<polygon points="616.6,162.1 622.6,161.2 618.1,154.8 612.0,155.4" fill="#20c334"/>
<polygon points="673.6,175.1 679.5,169.4 674.8,166.7 668.9,172.1" fill="#128b3d"/>
<polygon points="646.7,180.4 652.6,177.1 648.0,172.7 642.1,175.7" fill="#0f7540"/>
<polygon points="690.1,165.2 696.0,158.0 691.2,156.2 685.4,163.1" fill="#20c034"/>
<polygon points="657.2,181.0 663.1,176.9 658.5,173.2 652.6,177.1" fill="#0e7340"/>
<polygon points="621.1,168.4 627.1,167.2 622.6,161.2 616.6,162.1" fill="#1cb137"/>
<polygon points="636.1,178.1 642.1,175.7 637.5,170.8 631.6,172.9" fill="#11823e"/>
<polygon points="667.7,180.2 673.6,175.1 668.9,172.1 663.1,176.9" fill="#107c3f"/>
<polygon points="684.2,171.8 690.1,165.2 685.4,163.1 679.5,169.4" fill="#19a739"/>
<polygon points="625.6,174.4 631.6,172.9 627.1,167.2 621.1,168.4" fill="#169c3b"/>
<polygon points="678.3,177.8 684.2,171.8 679.5,169.4 673.6,175.1" fill="#13903d"/>
<polygon points="651.2,184.6 657.2,181.0 652.6,177.1 646.7,180.4" fill="#0e7040"/>
<polygon points="661.8,184.6 667.7,180.2 663.1,176.9 657.2,181.0" fill="#0e7140"/>
<polygon points="640.7,183.0 646.7,180.4 642.1,175.7 636.1,178.1" fill="#0f773f"/>
<polygon points="610.5,162.4 616.6,162.1 612.0,155.4 606.0,155.4" fill="#24cf30"/>
<polygon points="694.9,166.9 700.8,159.4 696.0,158.0 690.1,165.2" fill="#22c832"/>
<polygon points="672.4,183.1 678.3,177.8 673.6,175.1 667.7,180.2" fill="#107e3f"/>
<polygon points="630.2,179.9 636.1,178.1 631.6,172.9 625.6,174.4" fill="#128b3d"/>
<polygon points="615.0,169.0 621.1,168.4 616.6,162.1 610.5,162.4" fill="#20c034"/>
<polygon points="688.9,173.8 694.9,166.9 690.1,165.2 684.2,171.8" fill="#1cb237"/>
<polygon points="655.9,188.5 661.8,184.6 657.2,181.0 651.2,184.6" fill="#0d6e41"/>
<polygon points="645.3,187.6 651.2,184.6 646.7,180.4 640.7,183.0" fill="#0e7040"/>
<polygon points="683.0,180.0 688.9,173.8 684.2,171.8 678.3,177.8" fill="#15983b"/>
<polygon points="666.4,187.8 672.4,183.1 667.7,180.2 661.8,184.6" fill="#0e7240"/>
<polygon points="619.6,175.2 625.6,174.4 621.1,168.4 615.0,169.0" fill="#1aad38"/>
<polygon points="634.7,185.1 640.7,183.0 636.1,178.1 630.2,179.9" fill="#107e3f"/>
<polygon points="677.1,185.7 683.0,180.0 678.3,177.8 672.4,183.1" fill="#11843e"/>
<polygon points="604.4,162.1 610.5,162.4 606.0,155.4 599.8,154.8" fill="#30da2f"/>
<polygon points="699.7,168.2 705.6,160.4 700.8,159.4 694.9,166.9" fill="#25d130"/>
<polygon points="624.1,181.1 630.2,179.9 625.6,174.4 619.6,175.2" fill="#15983b"/>
<polygon points="649.9,191.7 655.9,188.5 651.2,184.6 645.3,187.6" fill="#0d6c41"/>
<polygon points="660.5,192.0 666.4,187.8 661.8,184.6 655.9,188.5" fill="#0d6d41"/>
<polygon points="639.3,189.9 645.3,187.6 640.7,183.0 634.7,185.1" fill="#0e7340"/>
<polygon points="693.7,175.4 699.7,168.2 694.9,166.9 688.9,173.8" fill="#1fbd35"/>
<polygon points="608.9,169.0 615.0,169.0 610.5,162.4 604.4,162.1" fill="#23ce31"/>
<polygon points="671.1,190.7 677.1,185.7 672.4,183.1 666.4,187.8" fill="#0f7540"/>
<polygon points="687.8,181.9 693.7,175.4 688.9,173.8 683.0,180.0" fill="#18a33a"/>
<polygon points="628.7,186.5 634.7,185.1 630.2,179.9 624.1,181.1" fill="#12883d"/>
<polygon points="613.5,175.5 619.6,175.2 615.0,169.0 608.9,169.0" fill="#1fbf35"/>
<polygon points="654.6,195.5 660.5,192.0 655.9,188.5 649.9,191.7" fill="#0d6941"/>
<polygon points="643.9,194.3 649.9,191.7 645.3,187.6 639.3,189.9" fill="#0d6d41"/>
<polygon points="681.8,187.8 687.8,181.9 683.0,180.0 677.1,185.7" fill="#138d3d"/>
<polygon points="665.2,195.1 671.1,190.7 666.4,187.8 660.5,192.0" fill="#0d6d41"/>
<polygon points="618.1,181.6 624.1,181.1 619.6,175.2 613.5,175.5" fill="#1aab38"/>
<polygon points="704.5,169.1 710.5,161.1 705.6,160.4 699.7,168.2" fill="#2ed92f"/>
<polygon points="633.3,191.6 639.3,189.9 634.7,185.1 628.7,186.5" fill="#0f793f"/>
<polygon points="598.2,161.1 604.4,162.1 599.8,154.8 593.6,153.5" fill="#4be62e"/>
<polygon points="698.6,176.6 704.5,169.1 699.7,168.2 693.7,175.4" fill="#22c732"/>
<polygon points="675.9,193.1 681.8,187.8 677.1,185.7 671.1,190.7" fill="#0f7a3f"/>
<polygon points="602.8,168.3 608.9,169.0 604.4,162.1 598.2,161.1" fill="#30da2f"/>
<polygon points="692.6,183.4 698.6,176.6 693.7,175.4 687.8,181.9" fill="#1cb237"/>
<polygon points="622.6,187.3 628.7,186.5 624.1,181.1 618.1,181.6" fill="#14953c"/>
<polygon points="648.6,198.4 654.6,195.5 649.9,191.7 643.9,194.3" fill="#0c6842"/>
<polygon points="659.2,198.9 665.2,195.1 660.5,192.0 654.6,195.5" fill="#0c6842"/>
<polygon points="637.9,196.3 643.9,194.3 639.3,189.9 633.3,191.6" fill="#0e6f40"/>
<polygon points="607.4,175.1 613.5,175.5 608.9,169.0 602.8,168.3" fill="#23ce31"/>
<polygon points="669.9,197.8 675.9,193.1 671.1,190.7 665.2,195.1" fill="#0d6e41"/>
<polygon points="686.6,189.6 692.6,183.4 687.8,181.9 681.8,187.8" fill="#15973c"/>
<polygon points="627.2,192.7 633.3,191.6 628.7,186.5 622.6,187.3" fill="#11853e"/>
<polygon points="611.9,181.5 618.1,181.6 613.5,175.5 607.4,175.1" fill="#1fbe35"/>
<polygon points="709.5,169.7 715.5,161.3 710.5,161.1 704.5,169.1" fill="#3ce22e"/>
<polygon points="680.6,195.2 686.6,189.6 681.8,187.8 675.9,193.1" fill="#11813e"/>
<polygon points="653.2,202.1 659.2,198.9 654.6,195.5 648.6,198.4" fill="#0c6642"/>
<polygon points="703.4,177.4 709.5,169.7 704.5,169.1 698.6,176.6" fill="#26d230"/>
<polygon points="642.5,200.7 648.6,198.4 643.9,194.3 637.9,196.3" fill="#0d6a41"/>
<polygon points="663.9,201.9 669.9,197.8 665.2,195.1 659.2,198.9" fill="#0c6842"/>
<polygon points="592.0,159.4 598.2,161.1 593.6,153.5 587.4,151.6" fill="#7cef2e"/>
<polygon points="697.4,184.5 703.4,177.4 698.6,176.6 692.6,183.4" fill="#1fbf35"/>
<polygon points="616.5,187.5 622.6,187.3 618.1,181.6 611.9,181.5" fill="#1aa939"/>
<polygon points="631.9,197.7 637.9,196.3 633.3,191.6 627.2,192.7" fill="#0f773f"/>
<polygon points="596.5,166.9 602.8,168.3 598.2,161.1 592.0,159.4" fill="#4de62e"/>
<polygon points="674.7,200.2 680.6,195.2 675.9,193.1 669.9,197.8" fill="#0e7140"/>
<polygon points="691.5,191.0 697.4,184.5 692.6,183.4 686.6,189.6" fill="#18a439"/>
<polygon points="601.1,174.0 607.4,175.1 602.8,168.3 596.5,166.9" fill="#30db2f"/>
<polygon points="647.2,204.6 653.2,202.1 648.6,198.4 642.5,200.7" fill="#0c6642"/>
<polygon points="657.9,205.4 663.9,201.9 659.2,198.9 653.2,202.1" fill="#0c6542"/>
<polygon points="621.1,193.2 627.2,192.7 622.6,187.3 616.5,187.5" fill="#14943c"/>
<polygon points="685.5,196.9 691.5,191.0 686.6,189.6 680.6,195.2" fill="#128b3d"/>
<polygon points="636.5,202.4 642.5,200.7 637.9,196.3 631.9,197.7" fill="#0d6e41"/>
<polygon points="668.7,204.6 674.7,200.2 669.9,197.8 663.9,201.9" fill="#0d6a41"/>
<polygon points="605.7,180.8 611.9,181.5 607.4,175.1 601.1,174.0" fill="#23ce31"/>
<polygon points="714.4,169.8 720.5,161.1 715.5,161.3 709.5,169.7" fill="#5bea2e"/>
<polygon points="708.4,177.8 714.4,169.8 709.5,169.7 703.4,177.4" fill="#31db2f"/>
<polygon points="625.8,198.5 631.9,197.7 627.2,192.7 621.1,193.2" fill="#11853e"/>
<polygon points="702.4,185.3 708.4,177.8 703.4,177.4 697.4,184.5" fill="#22ca32"/>
<polygon points="679.5,202.2 685.5,196.9 680.6,195.2 674.7,200.2" fill="#0f793f"/>
<polygon points="610.3,187.1 616.5,187.5 611.9,181.5 605.7,180.8" fill="#1fbf35"/>
<polygon points="585.6,157.1 592.0,159.4 587.4,151.6 581.0,148.9" fill="#b5f72e"/>
<polygon points="651.9,208.2 657.9,205.4 653.2,202.1 647.2,204.6" fill="#0c6542"/>
<polygon points="662.7,208.3 668.7,204.6 663.9,201.9 657.9,205.4" fill="#0c6642"/>
<polygon points="696.3,192.1 702.4,185.3 697.4,184.5 691.5,191.0" fill="#1db437"/>
<polygon points="641.2,206.6 647.2,204.6 642.5,200.7 636.5,202.4" fill="#0d6a41"/>
<polygon points="590.2,164.9 596.5,166.9 592.0,159.4 585.6,157.1" fill="#7ff02e"/>
<polygon points="673.5,206.8 679.5,202.2 674.7,200.2 668.7,204.6" fill="#0d6e41"/>
<polygon points="615.0,193.0 621.1,193.2 616.5,187.5 610.3,187.1" fill="#1aab38"/>
<polygon points="630.4,203.4 636.5,202.4 631.9,197.7 625.8,198.5" fill="#0f783f"/>
<polygon points="690.3,198.2 696.3,192.1 691.5,191.0 685.5,196.9" fill="#15993b"/>
<polygon points="594.9,172.3 601.1,174.0 596.5,166.9 590.2,164.9" fill="#4fe72e"/>
<polygon points="719.5,169.5 725.6,160.5 720.5,161.1 714.4,169.8" fill="#82f02e"/>
<polygon points="599.5,179.4 605.7,180.8 601.1,174.0 594.9,172.3" fill="#31dc2f"/>
<polygon points="656.6,211.5 662.7,208.3 657.9,205.4 651.9,208.2" fill="#0c6542"/>
<polygon points="645.8,210.5 651.9,208.2 647.2,204.6 641.2,206.6" fill="#0c6742"/>
<polygon points="713.4,177.9 719.5,169.5 714.4,169.8 708.4,177.8" fill="#46e42e"/>
<polygon points="684.3,203.8 690.3,198.2 685.5,196.9 679.5,202.2" fill="#11843e"/>
<polygon points="619.6,198.6 625.8,198.5 621.1,193.2 615.0,193.0" fill="#15973b"/>
<polygon points="667.4,210.9 673.5,206.8 668.7,204.6 662.7,208.3" fill="#0c6942"/>
<polygon points="707.3,185.6 713.4,177.9 708.4,177.8 702.4,185.3" fill="#29d52f"/>
<polygon points="635.1,207.9 641.2,206.6 636.5,202.4 630.4,203.4" fill="#0e7040"/>
<polygon points="604.1,186.0 610.3,187.1 605.7,180.8 599.5,179.4" fill="#24d030"/>
<polygon points="701.3,192.7 707.3,185.6 702.4,185.3 696.3,192.1" fill="#20c234"/>
<polygon points="678.3,208.7 684.3,203.8 679.5,202.2 673.5,206.8" fill="#0e7440"/>
<polygon points="579.2,154.2 585.6,157.1 581.0,148.9 574.6,145.6" fill="#e0fc2c"/>
<polygon points="624.2,203.8 630.4,203.4 625.8,198.5 619.6,198.6" fill="#12883d"/>
<polygon points="695.2,199.2 701.3,192.7 696.3,192.1 690.3,198.2" fill="#1aaa38"/>
<polygon points="608.7,192.2 615.0,193.0 610.3,187.1 604.1,186.0" fill="#20c134"/>
<polygon points="650.6,214.0 656.6,211.5 651.9,208.2 645.8,210.5" fill="#0c6542"/>
<polygon points="583.9,162.3 590.2,164.9 585.6,157.1 579.2,154.2" fill="#b9f72e"/>
<polygon points="661.4,214.3 667.4,210.9 662.7,208.3 656.6,211.5" fill="#0c6642"/>
<polygon points="639.7,212.1 645.8,210.5 641.2,206.6 635.1,207.9" fill="#0d6b41"/>
<polygon points="588.5,170.0 594.9,172.3 590.2,164.9 583.9,162.3" fill="#86f12e"/>
<polygon points="689.2,205.0 695.2,199.2 690.3,198.2 684.3,203.8" fill="#14923c"/>
<polygon points="672.2,213.0 678.3,208.7 673.5,206.8 667.4,210.9" fill="#0d6d41"/>
<polygon points="724.6,168.8 730.7,159.5 725.6,160.5 719.5,169.5" fill="#adf62e"/>
<polygon points="718.5,177.5 724.6,168.8 719.5,169.5 713.4,177.9" fill="#67ec2e"/>
<polygon points="628.9,208.6 635.1,207.9 630.4,203.4 624.2,203.8" fill="#107d3f"/>
<polygon points="613.4,198.1 619.6,198.6 615.0,193.0 608.7,192.2" fill="#1cb137"/>
<polygon points="593.1,177.3 599.5,179.4 594.9,172.3 588.5,170.0" fill="#56e82e"/>
<polygon points="712.4,185.5 718.5,177.5 713.4,177.9 707.3,185.6" fill="#35df2e"/>
<polygon points="683.1,210.2 689.2,205.0 684.3,203.8 678.3,208.7" fill="#10803e"/>
<polygon points="706.3,192.9 712.4,185.5 707.3,185.6 701.3,192.7" fill="#24cf30"/>
<polygon points="655.3,217.1 661.4,214.3 656.6,211.5 650.6,214.0" fill="#0c6642"/>
<polygon points="644.5,215.9 650.6,214.0 645.8,210.5 639.7,212.1" fill="#0d6941"/>
<polygon points="597.8,184.2 604.1,186.0 599.5,179.4 593.1,177.3" fill="#34df2e"/>
<polygon points="666.2,216.8 672.2,213.0 667.4,210.9 661.4,214.3" fill="#0c6942"/>
<polygon points="618.0,203.6 624.2,203.8 619.6,198.6 613.4,198.1" fill="#179f3a"/>
<polygon points="700.2,199.7 706.3,192.9 701.3,192.7 695.2,199.2" fill="#1fbd35"/>
<polygon points="633.6,213.1 639.7,212.1 635.1,207.9 628.9,208.6" fill="#0e7440"/>
<polygon points="602.4,190.8 608.7,192.2 604.1,186.0 597.8,184.2" fill="#28d330"/>
<polygon points="677.1,214.8 683.1,210.2 678.3,208.7 672.2,213.0" fill="#0e7340"/>
<polygon points="572.7,150.5 579.2,154.2 574.6,145.6 568.0,141.6" fill="#f7fb1a"/>
<polygon points="694.1,205.8 700.2,199.7 695.2,199.2 689.2,205.0" fill="#18a439"/>
<polygon points="577.4,158.9 583.9,162.3 579.2,154.2 572.7,150.5" fill="#e3fd2b"/>
<polygon points="622.7,208.7 628.9,208.6 624.2,203.8 618.0,203.6" fill="#13903d"/>
<polygon points="649.2,219.3 655.3,217.1 650.6,214.0 644.5,215.9" fill="#0c6842"/>
<polygon points="660.1,219.8 666.2,216.8 661.4,214.3 655.3,217.1" fill="#0c6842"/>
<polygon points="582.0,166.9 588.5,170.0 583.9,162.3 577.4,158.9" fill="#c3f92e"/>
<polygon points="607.1,197.0 613.4,198.1 608.7,192.2 602.4,190.8" fill="#21c733"/>
<polygon points="729.8,167.7 736.0,158.1 730.7,159.5 724.6,168.8" fill="#d1fa2d"/>
<polygon points="723.6,176.7 729.8,167.7 724.6,168.8 718.5,177.5" fill="#95f32e"/>
<polygon points="688.1,211.3 694.1,205.8 689.2,205.0 683.1,210.2" fill="#138f3d"/>
<polygon points="717.5,185.0 723.6,176.7 718.5,177.5 712.4,185.5" fill="#56e82e"/>
<polygon points="638.3,217.2 644.5,215.9 639.7,212.1 633.6,213.1" fill="#0e6f40"/>
<polygon points="671.0,218.8 677.1,214.8 672.2,213.0 666.2,216.8" fill="#0d6e41"/>
<polygon points="586.7,174.6 593.1,177.3 588.5,170.0 582.0,166.9" fill="#93f32e"/>
<polygon points="711.3,192.7 717.5,185.0 712.4,185.5 706.3,192.9" fill="#30db2f"/>
<polygon points="627.4,213.5 633.6,213.1 628.9,208.6 622.7,208.7" fill="#11853e"/>
<polygon points="611.8,202.7 618.0,203.6 613.4,198.1 607.1,197.0" fill="#1ebb36"/>
<polygon points="705.2,199.8 711.3,192.7 706.3,192.9 700.2,199.7" fill="#23cb31"/>
<polygon points="591.4,181.8 597.8,184.2 593.1,177.3 586.7,174.6" fill="#62ec2e"/>
<polygon points="682.0,216.2 688.1,211.3 683.1,210.2 677.1,214.8" fill="#10803e"/>
<polygon points="654.0,222.3 660.1,219.8 655.3,217.1 649.2,219.3" fill="#0d6941"/>
<polygon points="699.1,206.2 705.2,199.8 700.2,199.7 694.1,205.8" fill="#1eba36"/>
<polygon points="643.0,220.8 649.2,219.3 644.5,215.9 638.3,217.2" fill="#0d6d41"/>
<polygon points="664.9,222.2 671.0,218.8 666.2,216.8 660.1,219.8" fill="#0d6b41"/>
<polygon points="596.0,188.7 602.4,190.8 597.8,184.2 591.4,181.8" fill="#3fe22e"/>
<polygon points="616.4,208.1 622.7,208.7 618.0,203.6 611.8,202.7" fill="#1aaa39"/>
<polygon points="632.1,217.8 638.3,217.2 633.6,213.1 627.4,213.5" fill="#107d3f"/>
<polygon points="675.9,220.5 682.0,216.2 677.1,214.8 671.0,218.8" fill="#0f7640"/>
<polygon points="566.1,146.1 572.7,150.5 568.0,141.6 561.4,136.9" fill="#ffd700"/>
<polygon points="693.0,212.1 699.1,206.2 694.1,205.8 688.1,211.3" fill="#18a23a"/>
<polygon points="600.7,195.1 607.1,197.0 602.4,190.8 596.0,188.7" fill="#2dd82f"/>
<polygon points="570.8,154.9 577.4,158.9 572.7,150.5 566.1,146.1" fill="#faf711"/>
<polygon points="728.8,175.5 735.0,166.2 729.8,167.7 723.6,176.7" fill="#c3f92e"/>
<polygon points="735.0,166.2 741.3,156.2 736.0,158.1 729.8,167.7" fill="#eafd28"/>
<polygon points="722.6,184.1 728.8,175.5 723.6,176.7 717.5,185.0" fill="#82f02e"/>
<polygon points="575.5,163.2 582.0,166.9 577.4,158.9 570.8,154.9" fill="#e9fd28"/>
<polygon points="716.5,192.2 722.6,184.1 717.5,185.0 711.3,192.7" fill="#4ae52e"/>
<polygon points="621.1,213.2 627.4,213.5 622.7,208.7 616.4,208.1" fill="#169b3b"/>
<polygon points="658.8,225.0 664.9,222.2 660.1,219.8 654.0,222.3" fill="#0d6c41"/>
<polygon points="647.8,224.2 654.0,222.3 649.2,219.3 643.0,220.8" fill="#0d6d41"/>
<polygon points="686.9,217.2 693.0,212.1 688.1,211.3 682.0,216.2" fill="#13903d"/>
<polygon points="580.2,171.2 586.7,174.6 582.0,166.9 575.5,163.2" fill="#cefa2d"/>
<polygon points="710.3,199.5 716.5,192.2 711.3,192.7 705.2,199.8" fill="#2dd82f"/>
<polygon points="605.4,201.2 611.8,202.7 607.1,197.0 600.7,195.1" fill="#23ce31"/>
<polygon points="669.8,224.2 675.9,220.5 671.0,218.8 664.9,222.2" fill="#0e7140"/>
<polygon points="636.9,221.8 643.0,220.8 638.3,217.2 632.1,217.8" fill="#0f783f"/>
<polygon points="584.9,178.7 591.4,181.8 586.7,174.6 580.2,171.2" fill="#a6f52e"/>
<polygon points="704.2,206.3 710.3,199.5 705.2,199.8 699.1,206.2" fill="#22c832"/>
<polygon points="680.8,221.8 686.9,217.2 682.0,216.2 675.9,220.5" fill="#11833e"/>
<polygon points="625.9,217.8 632.1,217.8 627.4,213.5 621.1,213.2" fill="#13913c"/>
<polygon points="610.1,206.9 616.4,208.1 611.8,202.7 605.4,201.2" fill="#20c334"/>
<polygon points="589.6,185.9 596.0,188.7 591.4,181.8 584.9,178.7" fill="#77ef2e"/>
<polygon points="698.1,212.4 704.2,206.3 699.1,206.2 693.0,212.1" fill="#1eb936"/>
<polygon points="652.6,227.1 658.8,225.0 654.0,222.3 647.8,224.2" fill="#0d6f41"/>
<polygon points="663.6,227.2 669.8,224.2 664.9,222.2 658.8,225.0" fill="#0e7040"/>
<polygon points="641.6,225.4 647.8,224.2 643.0,220.8 636.9,221.8" fill="#0f7540"/>
<polygon points="594.3,192.7 600.7,195.1 596.0,188.7 589.6,185.9" fill="#51e72e"/>
<polygon points="734.1,173.8 740.4,164.2 735.0,166.2 728.8,175.5" fill="#e2fc2b"/>
<polygon points="727.9,182.8 734.1,173.8 728.8,175.5 722.6,184.1" fill="#b3f72e"/>
<polygon points="740.4,164.2 746.7,153.9 741.3,156.2 735.0,166.2" fill="#faf712"/>
<polygon points="691.9,217.9 698.1,212.4 693.0,212.1 686.9,217.2" fill="#18a439"/>
<polygon points="614.8,212.2 621.1,213.2 616.4,208.1 610.1,206.9" fill="#1eb936"/>
<polygon points="721.7,191.2 727.9,182.8 722.6,184.1 716.5,192.2" fill="#74ee2e"/>
<polygon points="674.7,225.8 680.8,221.8 675.9,220.5 669.8,224.2" fill="#107c3f"/>
<polygon points="559.4,141.0 566.1,146.1 561.4,136.9 554.6,131.5" fill="#ff8100"/>
<polygon points="630.6,222.1 636.9,221.8 632.1,217.8 625.9,217.8" fill="#128a3d"/>
<polygon points="564.1,150.1 570.8,154.9 566.1,146.1 559.4,141.0" fill="#ffcb00"/>
<polygon points="715.5,198.8 721.7,191.2 716.5,192.2 710.3,199.5" fill="#43e32e"/>
<polygon points="568.9,158.8 575.5,163.2 570.8,154.9 564.1,150.1" fill="#fef204"/>
<polygon points="599.0,199.0 605.4,201.2 600.7,195.1 594.3,192.7" fill="#35df2e"/>
<polygon points="709.3,205.9 715.5,198.8 710.3,199.5 704.2,206.3" fill="#2bd62f"/>
<polygon points="573.6,167.0 580.2,171.2 575.5,163.2 568.9,158.8" fill="#f1fe25"/>
<polygon points="685.8,222.7 691.9,217.9 686.9,217.2 680.8,221.8" fill="#14943c"/>
<polygon points="657.5,229.6 663.6,227.2 658.8,225.0 652.6,227.1" fill="#0e7140"/>
<polygon points="619.6,217.2 625.9,217.8 621.1,213.2 614.8,212.2" fill="#1aac38"/>
<polygon points="646.4,228.6 652.6,227.1 647.8,224.2 641.6,225.4" fill="#0e7440"/>
<polygon points="578.3,174.9 584.9,178.7 580.2,171.2 573.6,167.0" fill="#dcfc2c"/>
<polygon points="668.5,229.1 674.7,225.8 669.8,224.2 663.6,227.2" fill="#0f773f"/>
<polygon points="703.2,212.3 709.3,205.9 704.2,206.3 698.1,212.4" fill="#22c832"/>
<polygon points="603.7,205.0 610.1,206.9 605.4,201.2 599.0,199.0" fill="#2bd62f"/>
<polygon points="635.4,225.9 641.6,225.4 636.9,221.8 630.6,222.1" fill="#11843e"/>
<polygon points="583.0,182.4 589.6,185.9 584.9,178.7 578.3,174.9" fill="#bcf82e"/>
<polygon points="679.7,227.0 685.8,222.7 680.8,221.8 674.7,225.8" fill="#128a3d"/>
<polygon points="697.0,218.1 703.2,212.3 698.1,212.4 691.9,217.9" fill="#1ebb36"/>
<polygon points="624.3,221.7 630.6,222.1 625.9,217.8 619.6,217.2" fill="#179f3a"/>
<polygon points="608.4,210.6 614.8,212.2 610.1,206.9 603.7,205.0" fill="#23cd31"/>
<polygon points="733.2,181.1 739.5,171.8 734.1,173.8 727.9,182.8" fill="#dafb2c"/>
<polygon points="739.5,171.8 745.8,161.8 740.4,164.2 734.1,173.8" fill="#f6fd1f"/>
<polygon points="587.7,189.5 594.3,192.7 589.6,185.9 583.0,182.4" fill="#92f22e"/>
<polygon points="726.9,189.7 733.2,181.1 727.9,182.8 721.7,191.2" fill="#a9f52e"/>
<polygon points="745.8,161.8 752.1,151.2 746.7,153.9 740.4,164.2" fill="#ffda00"/>
<polygon points="651.3,231.4 657.5,229.6 652.6,227.1 646.4,228.6" fill="#0f7540"/>
<polygon points="720.7,197.7 726.9,189.7 721.7,191.2 715.5,198.8" fill="#6ded2e"/>
<polygon points="662.4,231.8 668.5,229.1 663.6,227.2 657.5,229.6" fill="#0f7640"/>
<polygon points="640.2,229.4 646.4,228.6 641.6,225.4 635.4,225.9" fill="#10803e"/>
<polygon points="690.8,223.2 697.0,218.1 691.9,217.9 685.8,222.7" fill="#1aaa39"/>
<polygon points="714.5,205.1 720.7,197.7 715.5,198.8 709.3,205.9" fill="#40e32e"/>
<polygon points="592.5,196.2 599.0,199.0 594.3,192.7 587.7,189.5" fill="#69ed2e"/>
<polygon points="673.5,230.6 679.7,227.0 674.7,225.8 668.5,229.1" fill="#11823e"/>
<polygon points="552.5,135.1 559.4,141.0 554.6,131.5 547.7,125.3" fill="#fd2100"/>
<polygon points="557.3,144.6 564.1,150.1 559.4,141.0 552.5,135.1" fill="#ff6500"/>
<polygon points="613.2,215.9 619.6,217.2 614.8,212.2 608.4,210.6" fill="#20c334"/>
<polygon points="629.1,225.9 635.4,225.9 630.6,222.1 624.3,221.7" fill="#14953c"/>
<polygon points="562.1,153.6 568.9,158.8 564.1,150.1 557.3,144.6" fill="#ffb400"/>
<polygon points="708.3,211.8 714.5,205.1 709.3,205.9 703.2,212.3" fill="#2cd72f"/>
<polygon points="566.9,162.2 573.6,167.0 568.9,158.8 562.1,153.6" fill="#ffe300"/>
<polygon points="597.2,202.5 603.7,205.0 599.0,199.0 592.5,196.2" fill="#4be62e"/>
<polygon points="684.7,227.7 690.8,223.2 685.8,222.7 679.7,227.0" fill="#15993b"/>
<polygon points="571.6,170.4 578.3,174.9 573.6,167.0 566.9,162.2" fill="#f8fa18"/>
<polygon points="702.1,217.9 708.3,211.8 703.2,212.3 697.0,218.1" fill="#23cb31"/>
<polygon points="656.1,233.8 662.4,231.8 657.5,229.6 651.3,231.4" fill="#0f783f"/>
<polygon points="645.0,232.6 651.3,231.4 646.4,228.6 640.2,229.4" fill="#107e3f"/>
<polygon points="617.9,220.7 624.3,221.7 619.6,217.2 613.2,215.9" fill="#1eba36"/>
<polygon points="667.3,233.5 673.5,230.6 668.5,229.1 662.4,231.8" fill="#107e3f"/>
<polygon points="576.4,178.2 583.0,182.4 578.3,174.9 571.6,170.4" fill="#e8fd29"/>
<polygon points="602.0,208.4 608.4,210.6 603.7,205.0 597.2,202.5" fill="#33dd2e"/>
<polygon points="633.9,229.7 640.2,229.4 635.4,225.9 629.1,225.9" fill="#138f3d"/>
<polygon points="738.6,178.9 744.9,169.3 739.5,171.8 733.2,181.1" fill="#f2ff25"/>
<polygon points="732.3,187.9 738.6,178.9 733.2,181.1 726.9,189.7" fill="#d4fb2d"/>
<polygon points="744.9,169.3 751.3,159.0 745.8,161.8 739.5,171.8" fill="#ffe600"/>
<polygon points="695.9,223.3 702.1,217.9 697.0,218.1 690.8,223.2" fill="#1fbd35"/>
<polygon points="678.5,231.6 684.7,227.7 679.7,227.0 673.5,230.6" fill="#138f3d"/>
<polygon points="726.0,196.2 732.3,187.9 726.9,189.7 720.7,197.7" fill="#a4f52e"/>
<polygon points="581.1,185.6 587.7,189.5 583.0,182.4 576.4,178.2" fill="#d1fa2d"/>
<polygon points="751.3,159.0 757.7,148.0 752.1,151.2 745.8,161.8" fill="#ff9d00"/>
<polygon points="719.8,203.9 726.0,196.2 720.7,197.7 714.5,205.1" fill="#6ced2e"/>
<polygon points="622.7,225.2 629.1,225.9 624.3,221.7 617.9,220.7" fill="#1bae38"/>
<polygon points="606.7,213.9 613.2,215.9 608.4,210.6 602.0,208.4" fill="#29d52f"/>
<polygon points="585.9,192.6 592.5,196.2 587.7,189.5 581.1,185.6" fill="#b0f62e"/>
<polygon points="713.5,210.9 719.8,203.9 714.5,205.1 708.3,211.8" fill="#43e32e"/>
<polygon points="649.9,235.3 656.1,233.8 651.3,231.4 645.0,232.6" fill="#10803e"/>
<polygon points="661.1,235.9 667.3,233.5 662.4,231.8 656.1,233.8" fill="#107f3e"/>
<polygon points="689.7,228.1 695.9,223.3 690.8,223.2 684.7,227.7" fill="#1bad38"/>
<polygon points="638.7,233.1 645.0,232.6 640.2,229.4 633.9,229.7" fill="#138c3d"/>
<polygon points="672.3,234.9 678.5,231.6 673.5,230.6 667.3,233.5" fill="#12893d"/>
<polygon points="545.6,128.5 552.5,135.1 547.7,125.3 540.7,118.3" fill="#d30000"/>
<polygon points="550.4,138.3 557.3,144.6 552.5,135.1 545.6,128.5" fill="#f11200"/>
<polygon points="590.6,199.2 597.2,202.5 592.5,196.2 585.9,192.6" fill="#87f12e"/>
<polygon points="707.3,217.3 713.5,210.9 708.3,211.8 702.1,217.9" fill="#2dd82f"/>
<polygon points="555.2,147.7 562.1,153.6 557.3,144.6 550.4,138.3" fill="#ff4700"/>
<polygon points="611.5,219.0 617.9,220.7 613.2,215.9 606.7,213.9" fill="#23cd31"/>
<polygon points="560.0,156.6 566.9,162.2 562.1,153.6 555.2,147.7" fill="#ff9100"/>
<polygon points="627.5,229.2 633.9,229.7 629.1,225.9 622.7,225.2" fill="#19a539"/>
<polygon points="683.5,232.3 689.7,228.1 684.7,227.7 678.5,231.6" fill="#17a03a"/>
<polygon points="564.8,165.2 571.6,170.4 566.9,162.2 560.0,156.6" fill="#ffcf00"/>
<polygon points="701.1,223.0 707.3,217.3 702.1,217.9 695.9,223.3" fill="#23cc31"/>
<polygon points="595.4,205.4 602.0,208.4 597.2,202.5 590.6,199.2" fill="#61eb2e"/>
<polygon points="737.7,185.6 744.1,176.3 738.6,178.9 732.3,187.9" fill="#effe26"/>
<polygon points="744.1,176.3 750.4,166.3 744.9,169.3 738.6,178.9" fill="#ffee00"/>
<polygon points="569.6,173.3 576.4,178.2 571.6,170.4 564.8,165.2" fill="#fef103"/>
<polygon points="654.8,237.6 661.1,235.9 656.1,233.8 649.9,235.3" fill="#11843e"/>
<polygon points="731.4,194.2 737.7,185.6 732.3,187.9 726.0,196.2" fill="#d2fa2d"/>
<polygon points="750.4,166.3 756.9,155.6 751.3,159.0 744.9,169.3" fill="#ffb100"/>
<polygon points="643.6,236.1 649.9,235.3 645.0,232.6 638.7,233.1" fill="#138c3d"/>
<polygon points="666.0,237.6 672.3,234.9 667.3,233.5 661.1,235.9" fill="#12883d"/>
<polygon points="616.3,223.8 622.7,225.2 617.9,220.7 611.5,219.0" fill="#21c433"/>
<polygon points="725.1,202.2 731.4,194.2 726.0,196.2 719.8,203.9" fill="#a4f52e"/>
<polygon points="756.9,155.6 763.3,144.3 757.7,148.0 751.3,159.0" fill="#ff4b00"/>
<polygon points="574.4,181.0 581.1,185.6 576.4,178.2 569.6,173.3" fill="#f4ff24"/>
<polygon points="694.9,228.1 701.1,223.0 695.9,223.3 689.7,228.1" fill="#20c034"/>
<polygon points="600.2,211.3 606.7,213.9 602.0,208.4 595.4,205.4" fill="#45e42e"/>
<polygon points="632.4,232.9 638.7,233.1 633.9,229.7 627.5,229.2" fill="#17a03a"/>
<polygon points="677.3,235.9 683.5,232.3 678.5,231.6 672.3,234.9" fill="#15973b"/>
<polygon points="718.8,209.5 725.1,202.2 719.8,203.9 713.5,210.9" fill="#6ced2e"/>
<polygon points="579.2,188.3 585.9,192.6 581.1,185.6 574.4,181.0" fill="#e2fc2b"/>
<polygon points="712.6,216.2 718.8,209.5 713.5,210.9 707.3,217.3" fill="#43e32e"/>
<polygon points="621.1,228.2 627.5,229.2 622.7,225.2 616.3,223.8" fill="#1fbe35"/>
<polygon points="688.6,232.6 694.9,228.1 689.7,228.1 683.5,232.3" fill="#1db437"/>
<polygon points="605.0,216.7 611.5,219.0 606.7,213.9 600.2,211.3" fill="#33dd2e"/>
<polygon points="584.0,195.3 590.6,199.2 585.9,192.6 579.2,188.3" fill="#c9f92e"/>
<polygon points="659.8,239.6 666.0,237.6 661.1,235.9 654.8,237.6" fill="#138c3d"/>
<polygon points="648.5,238.7 654.8,237.6 649.9,235.3 643.6,236.1" fill="#138e3d"/>
<polygon points="706.3,222.3 712.6,216.2 707.3,217.3 701.1,223.0" fill="#2ed92f"/>
<polygon points="671.0,238.8 677.3,235.9 672.3,234.9 666.0,237.6" fill="#14943c"/>
<polygon points="637.2,236.2 643.6,236.1 638.7,233.1 632.4,232.9" fill="#169d3b"/>
<polygon points="543.4,131.3 550.4,138.3 545.6,128.5 538.5,121.1" fill="#c70000"/>
<polygon points="538.5,121.1 545.6,128.5 540.7,118.3 533.6,110.5" fill="#ab0000"/>
<polygon points="548.2,141.0 555.2,147.7 550.4,138.3 543.4,131.3" fill="#e30100"/>
<polygon points="588.8,201.8 595.4,205.4 590.6,199.2 584.0,195.3" fill="#a5f52e"/>
<polygon points="553.1,150.3 560.0,156.6 555.2,147.7 548.2,141.0" fill="#ff2600"/>
<polygon points="743.2,182.8 749.6,173.2 744.1,176.3 737.7,185.6" fill="#fef102"/>
<polygon points="749.6,173.2 756.1,162.9 750.4,166.3 744.1,176.3" fill="#ffbe00"/>
<polygon points="736.9,191.8 743.2,182.8 737.7,185.6 731.4,194.2" fill="#eefe26"/>
<polygon points="609.8,221.7 616.3,223.8 611.5,219.0 605.0,216.7" fill="#2bd62f"/>
<polygon points="557.9,159.2 564.8,165.2 560.0,156.6 553.1,150.3" fill="#ff6500"/>
<polygon points="682.4,236.5 688.6,232.6 683.5,232.3 677.3,235.9" fill="#1aaa39"/>
<polygon points="700.1,227.7 706.3,222.3 701.1,223.0 694.9,228.1" fill="#24cf30"/>
<polygon points="626.0,232.1 632.4,232.9 627.5,229.2 621.1,228.2" fill="#1eb936"/>
<polygon points="756.1,162.9 762.6,151.8 756.9,155.6 750.4,166.3" fill="#ff5a00"/>
<polygon points="730.5,200.1 736.9,191.8 731.4,194.2 725.1,202.2" fill="#d1fa2d"/>
<polygon points="562.7,167.6 569.6,173.3 564.8,165.2 557.9,159.2" fill="#ffab00"/>
<polygon points="762.6,151.8 769.1,140.1 763.3,144.3 756.9,155.6" fill="#f01100"/>
<polygon points="724.2,207.8 730.5,200.1 725.1,202.2 718.8,209.5" fill="#a2f52e"/>
<polygon points="593.6,207.9 600.2,211.3 595.4,205.4 588.8,201.8" fill="#80f02e"/>
<polygon points="653.4,240.9 659.8,239.6 654.8,237.6 648.5,238.7" fill="#14943c"/>
<polygon points="567.5,175.7 574.4,181.0 569.6,173.3 562.7,167.6" fill="#ffd900"/>
<polygon points="664.8,241.1 671.0,238.8 666.0,237.6 659.8,239.6" fill="#14963c"/>
<polygon points="642.1,239.1 648.5,238.7 643.6,236.1 637.2,236.2" fill="#179e3a"/>
<polygon points="717.9,214.8 724.2,207.8 718.8,209.5 712.6,216.2" fill="#6ded2e"/>
<polygon points="693.8,232.5 700.1,227.7 694.9,228.1 688.6,232.6" fill="#21c533"/>
<polygon points="614.6,226.4 621.1,228.2 616.3,223.8 609.8,221.7" fill="#25d130"/>
<polygon points="572.4,183.3 579.2,188.3 574.4,181.0 567.5,175.7" fill="#fbf50d"/>
<polygon points="676.1,239.7 682.4,236.5 677.3,235.9 671.0,238.8" fill="#18a539"/>
<polygon points="630.8,235.7 637.2,236.2 632.4,232.9 626.0,232.1" fill="#1db437"/>
<polygon points="598.4,213.7 605.0,216.7 600.2,211.3 593.6,207.9" fill="#60eb2e"/>
<polygon points="711.6,221.1 717.9,214.8 712.6,216.2 706.3,222.3" fill="#47e52e"/>
<polygon points="577.2,190.6 584.0,195.3 579.2,188.3 572.4,183.3" fill="#eefe26"/>
<polygon points="687.5,236.6 693.8,232.5 688.6,232.6 682.4,236.5" fill="#1fbd35"/>
<polygon points="619.5,230.7 626.0,232.1 621.1,228.2 614.6,226.4" fill="#23cb31"/>
<polygon points="705.3,226.9 711.6,221.1 706.3,222.3 700.1,227.7" fill="#31dc2f"/>
<polygon points="658.4,242.8 664.8,241.1 659.8,239.6 653.4,240.9" fill="#169d3b"/>
<polygon points="603.2,219.0 609.8,221.7 605.0,216.7 598.4,213.7" fill="#4ae52e"/>
<polygon points="647.1,241.7 653.4,240.9 648.5,238.7 642.1,239.1" fill="#18a23a"/>
<polygon points="582.0,197.4 588.8,201.8 584.0,195.3 577.2,190.6" fill="#ddfc2c"/>
<polygon points="669.8,242.3 676.1,239.7 671.0,238.8 664.8,241.1" fill="#18a439"/>
<polygon points="635.7,238.9 642.1,239.1 637.2,236.2 630.8,235.7" fill="#1cb337"/>
<polygon points="699.0,231.9 705.3,226.9 700.1,227.7 693.8,232.5" fill="#28d330"/>
<polygon points="586.8,203.9 593.6,207.9 588.8,201.8 582.0,197.4" fill="#c5f92e"/>
<polygon points="681.2,240.1 687.5,236.6 682.4,236.5 676.1,239.7" fill="#1eb836"/>
<polygon points="608.0,224.0 614.6,226.4 609.8,221.7 603.2,219.0" fill="#38e02e"/>
<polygon points="624.4,234.5 630.8,235.7 626.0,232.1 619.5,230.7" fill="#22c732"/>
<polygon points="591.7,209.9 598.4,213.7 593.6,207.9 586.8,203.9" fill="#a6f52e"/>
<polygon points="652.1,243.8 658.4,242.8 653.4,240.9 647.1,241.7" fill="#19a939"/>
<polygon points="663.5,244.2 669.8,242.3 664.8,241.1 658.4,242.8" fill="#1aa939"/>
<polygon points="692.7,236.4 699.0,231.9 693.8,232.5 687.5,236.6" fill="#23cc31"/>
<polygon points="640.7,241.7 647.1,241.7 642.1,239.1 635.7,238.9" fill="#1db537"/>
<polygon points="674.9,243.0 681.2,240.1 676.1,239.7 669.8,242.3" fill="#1db637"/>
<polygon points="612.9,228.5 619.5,230.7 614.6,226.4 608.0,224.0" fill="#31dc2f"/>
<polygon points="629.3,238.0 635.7,238.9 630.8,235.7 624.4,234.5" fill="#21c533"/>
<polygon points="596.5,215.6 603.2,219.0 598.4,213.7 591.7,209.9" fill="#88f12e"/>
<polygon points="686.4,240.2 692.7,236.4 687.5,236.6 681.2,240.1" fill="#21c633"/>
<polygon points="657.1,245.5 663.5,244.2 658.4,242.8 652.1,243.8" fill="#1cb337"/>
<polygon points="617.8,232.7 624.4,234.5 619.5,230.7 612.9,228.5" fill="#2dd82f"/>
<polygon points="645.7,244.1 652.1,243.8 647.1,241.7 640.7,241.7" fill="#1eba36"/>
<polygon points="601.4,220.8 608.0,224.0 603.2,219.0 596.5,215.6" fill="#6eed2e"/>
<polygon points="668.6,245.2 674.9,243.0 669.8,242.3 663.5,244.2" fill="#1eb936"/>
<polygon points="634.2,241.1 640.7,241.7 635.7,238.9 629.3,238.0" fill="#21c533"/>
<polygon points="680.1,243.3 686.4,240.2 681.2,240.1 674.9,243.0" fill="#21c433"/>
<polygon points="606.3,225.7 612.9,228.5 608.0,224.0 601.4,220.8" fill="#5aea2e"/>
<polygon points="622.7,236.5 629.3,238.0 624.4,234.5 617.8,232.7" fill="#2ad52f"/>
<polygon points="650.7,246.1 657.1,245.5 652.1,243.8 645.7,244.1" fill="#1fbf35"/>
<polygon points="662.2,246.8 668.6,245.2 663.5,244.2 657.1,245.5" fill="#1fbe35"/>
<polygon points="639.2,243.8 645.7,244.1 640.7,241.7 634.2,241.1" fill="#21c733"/>
<polygon points="673.7,245.9 680.1,243.3 674.9,243.0 668.6,245.2" fill="#21c433"/>
<polygon points="611.2,230.1 617.8,232.7 612.9,228.5 606.3,225.7" fill="#4de62e"/>
<polygon points="627.7,239.8 634.2,241.1 629.3,238.0 622.7,236.5" fill="#29d42f"/>
<polygon points="655.7,247.7 662.2,246.8 657.1,245.5 650.7,246.1" fill="#21c533"/>
<polygon points="616.1,234.2 622.7,236.5 617.8,232.7 611.2,230.1" fill="#44e42e"/>
<polygon points="644.2,246.1 650.7,246.1 645.7,244.1 639.2,243.8" fill="#22ca32"/>
<polygon points="667.3,247.7 673.7,245.9 668.6,245.2 662.2,246.8" fill="#22c732"/>
<polygon points="632.6,242.8 639.2,243.8 634.2,241.1 627.7,239.8" fill="#29d52f"/>
<polygon points="621.0,237.9 627.7,239.8 622.7,236.5 616.1,234.2" fill="#3ee22e"/>
<polygon points="660.9,248.9 667.3,247.7 662.2,246.8 655.7,247.7" fill="#23ce31"/>
<polygon points="649.3,248.0 655.7,247.7 650.7,246.1 644.2,246.1" fill="#24d030"/>
<polygon points="637.7,245.4 644.2,246.1 639.2,243.8 632.6,242.8" fill="#2bd62f"/>
<polygon points="626.0,241.2 632.6,242.8 627.7,239.8 621.0,237.9" fill="#3de22e"/>
<polygon points="654.4,249.5 660.9,248.9 655.7,247.7 649.3,248.0" fill="#29d52f"/>
<polygon points="642.7,247.6 649.3,248.0 644.2,246.1 637.7,245.4" fill="#2fd92f"/>
<polygon points="631.1,244.0 637.7,245.4 632.6,242.8 626.0,241.2" fill="#3fe22e"/>
<polygon points="647.8,249.4 654.4,249.5 649.3,248.0 642.7,247.6" fill="#33de2e"/>
<polygon points="636.1,246.5 642.7,247.6 637.7,245.4 631.1,244.0" fill="#45e42e"/>
<polygon points="641.2,248.6 647.8,249.4 642.7,247.6 636.1,246.5" fill="#4fe62e"/>
</g>
<polygon points="533.6,110.5 534.7,112.9 535.7,115.2 536.8,117.6 537.9,119.9 539.0,122.1 540.0,124.4 541.1,126.6 542.2,128.9 543.3,131.1 544.3,133.2 545.4,135.4 546.5,137.5 547.5,139.6 548.6,141.7 549.7,143.8 550.7,145.9 551.8,147.9 552.9,149.9 553.9,151.9 555.0,153.9 556.1,155.8 557.1,157.8 558.2,159.7 559.2,161.6 560.3,163.4 561.4,165.3 562.4,167.1 563.5,168.9 564.6,170.7 565.6,172.5 566.7,174.3 567.7,176.0 568.8,177.7 569.9,179.4 570.9,181.1 572.0,182.7 573.0,184.4 574.1,186.0 575.2,187.6 576.2,189.2 577.3,190.7 578.3,192.2 579.4,193.8 580.5,195.3 581.5,196.7 582.6,198.2 583.6,199.6 584.7,201.1 585.8,202.5 586.8,203.9 587.9,205.2 589.0,206.6 590.0,207.9 591.1,209.2 592.1,210.5 593.2,211.8 594.3,213.0 595.3,214.2 596.4,215.4 597.5,216.6 598.6,217.8 599.6,219.0 600.7,220.1 601.8,221.2 602.8,222.3 603.9,223.4 605.0,224.4 606.1,225.5 607.1,226.5 608.2,227.5 609.3,228.5 610.4,229.5 611.5,230.4 612.5,231.3 613.6,232.2 614.7,233.1 615.8,234.0 616.9,234.8 618.0,235.7 619.1,236.5 620.1,237.3 621.2,238.0 622.3,238.8 623.4,239.5 624.5,240.2 625.6,240.9 626.7,241.6 627.8,242.2 628.9,242.9 630.0,243.5 631.2,244.1 632.3,244.7 633.4,245.2 634.5,245.8 635.6,246.3 636.7,246.8 637.8,247.3 639.0,247.7 640.1,248.2 641.2,248.6 641.2,248.6 642.5,248.8 643.9,249.0 645.2,249.1 646.5,249.3 647.8,249.4 649.1,249.5 650.5,249.5 651.8,249.5 653.1,249.5 654.4,249.5 655.7,249.4 657.0,249.4 658.3,249.2 659.6,249.1 660.9,248.9 662.2,248.8 663.4,248.5 664.7,248.3 666.0,248.0 667.3,247.7 668.6,247.4 669.9,247.1 671.2,246.7 672.4,246.3 673.7,245.9 675.0,245.4 676.3,244.9 677.5,244.4 678.8,243.9 680.1,243.3 681.3,242.8 682.6,242.2 683.9,241.5 685.2,240.9 686.4,240.2 687.7,239.5 688.9,238.7 690.2,238.0 691.5,237.2 692.7,236.4 694.0,235.5 695.3,234.7 696.5,233.8 697.8,232.9 699.0,231.9 700.3,231.0 701.6,230.0 702.8,229.0 704.1,227.9 705.3,226.9 706.6,225.8 707.8,224.7 709.1,223.5 710.4,222.3 711.6,221.1 712.9,219.9 714.1,218.7 715.4,217.4 716.7,216.1 717.9,214.8 719.2,213.4 720.4,212.1 721.7,210.7 723.0,209.2 724.2,207.8 725.5,206.3 726.7,204.8 728.0,203.3 729.3,201.7 730.5,200.1 731.8,198.5 733.1,196.9 734.3,195.2 735.6,193.5 736.9,191.8 738.1,190.1 739.4,188.3 740.7,186.5 742.0,184.7 743.2,182.8 744.5,181.0 745.8,179.1 747.1,177.1 748.4,175.2 749.6,173.2 750.9,171.2 752.2,169.1 753.5,167.1 754.8,165.0 756.1,162.9 757.4,160.7 758.7,158.5 760.0,156.3 761.3,154.1 762.6,151.8 763.9,149.6 765.2,147.2 766.5,144.9 767.8,142.5 769.1,140.1 769.1,140.1 767.8,141.1 766.5,142.0 765.3,142.9 764.0,143.8 762.8,144.7 761.5,145.5 760.3,146.3 759.0,147.1 757.8,147.9 756.6,148.6 755.3,149.4 754.1,150.1 752.9,150.7 751.7,151.4 750.5,152.0 749.3,152.6 748.1,153.2 746.9,153.8 745.7,154.4 744.5,154.9 743.3,155.4 742.1,155.9 740.9,156.3 739.8,156.8 738.6,157.2 737.4,157.6 736.3,158.0 735.1,158.3 734.0,158.7 732.8,159.0 731.7,159.3 730.5,159.5 729.4,159.8 728.3,160.0 727.1,160.2 726.0,160.4 724.9,160.6 723.8,160.8 722.6,160.9 721.5,161.0 720.4,161.1 719.3,161.2 718.2,161.2 717.1,161.3 716.0,161.3 714.9,161.3 713.8,161.3 712.7,161.2 711.6,161.1 710.5,161.1 709.5,161.0 708.4,160.8 707.3,160.7 706.2,160.5 705.1,160.4 704.1,160.2 703.0,159.9 701.9,159.7 700.9,159.5 699.8,159.2 698.8,158.9 697.7,158.6 696.7,158.3 695.6,157.9 694.6,157.5 693.5,157.2 692.5,156.7 691.4,156.3 690.4,155.9 689.4,155.4 688.3,154.9 687.3,154.4 686.3,153.9 685.2,153.4 684.2,152.9 683.2,152.3 682.2,151.7 681.1,151.1 680.1,150.5 679.1,149.8 678.1,149.2 677.1,148.5 676.0,147.8 675.0,147.1 674.0,146.3 673.0,145.6 672.0,144.8 671.0,144.0 670.0,143.2 669.0,142.4 668.0,141.5 667.0,140.7 666.0,139.8 665.0,138.9 664.0,138.0 663.0,137.1 662.0,136.1 661.0,135.1 660.1,134.2 659.1,133.2 659.1,133.2 657.9,134.2 656.8,135.2 655.6,136.2 654.4,137.1 653.3,138.1 652.1,139.0 651.0,139.9 649.8,140.7 648.6,141.6 647.5,142.4 646.3,143.2 645.2,143.9 644.0,144.7 642.8,145.4 641.7,146.1 640.5,146.8 639.3,147.4 638.2,148.0 637.0,148.6 635.8,149.2 634.6,149.7 633.5,150.3 632.3,150.8 631.1,151.2 629.9,151.7 628.8,152.1 627.6,152.5 626.4,152.9 625.2,153.2 624.0,153.5 622.8,153.8 621.6,154.1 620.4,154.4 619.2,154.6 618.1,154.8 616.9,155.0 615.7,155.1 614.5,155.3 613.2,155.4 612.0,155.4 610.8,155.5 609.6,155.5 608.4,155.5 607.2,155.5 606.0,155.4 604.8,155.4 603.5,155.3 602.3,155.1 601.1,155.0 599.8,154.8 598.6,154.6 597.4,154.4 596.1,154.1 594.9,153.8 593.6,153.5 592.4,153.2 591.1,152.8 589.9,152.4 588.6,152.0 587.4,151.6 586.1,151.1 584.8,150.6 583.6,150.1 582.3,149.5 581.0,148.9 579.7,148.3 578.4,147.7 577.2,147.1 575.9,146.4 574.6,145.6 573.3,144.9 572.0,144.1 570.7,143.3 569.3,142.5 568.0,141.6 566.7,140.8 565.4,139.9 564.1,138.9 562.7,137.9 561.4,136.9 560.0,135.9 558.7,134.8 557.3,133.8 556.0,132.6 554.6,131.5 553.3,130.3 551.9,129.1 550.5,127.9 549.1,126.6 547.7,125.3 546.3,123.9 545.0,122.6 543.6,121.2 542.1,119.8 540.7,118.3 539.3,116.8 537.9,115.3 536.5,113.7 535.0,112.1 533.6,110.5" fill="none" stroke="#000" stroke-width="0.9"/>
<g fill="none" stroke="#1428e6" stroke-width="1.3">
<circle cx="645.0" cy="147.6" r="2.3"/>
<path d="M645.0,149.9 v10" stroke-width="0.9"/>
<circle cx="669.5" cy="170.7" r="2.3"/>
<circle cx="669.5" cy="176.0" r="2.3"/>
<circle cx="669.5" cy="179.7" r="2.3"/>
<circle cx="684.5" cy="169.4" r="2.3"/>
<circle cx="699.5" cy="175.0" r="2.3"/>
<circle cx="654.8" cy="189.1" r="2.3"/>
<path d="M631.9,241.3 a2.4,2.4 0 0 1 4.8,0"/>
<path d="M693.4,192.8 l1.2,-1" stroke-width="1"/>
</g>
<g font-family="Liberation Sans, sans-serif" font-size="6.2" fill="#222" text-anchor="middle">
<text transform="translate(521.0,103.5) rotate(-14)" y="2.3">140</text>
<text transform="translate(521.0,123.5) rotate(-14)" y="2.3">120</text>
<text transform="translate(521.5,144.3) rotate(-14)" y="2.3">100</text>
<text transform="translate(523.8,162.9) rotate(-14)" y="2.3">80</text>
<text transform="translate(524.8,183.3) rotate(-14)" y="2.3">60</text>
<text transform="translate(526.2,203.2) rotate(-14)" y="2.3">40</text>
<text transform="translate(527.0,222.7) rotate(-14)" y="2.3">20</text>
<text transform="translate(529.5,240.5) rotate(38)" y="2.3">50</text>
<text transform="translate(544.7,253.7) rotate(38)" y="2.3">40</text>
<text transform="translate(560.8,265.9) rotate(38)" y="2.3">30</text>
<text transform="translate(577.2,278.1) rotate(38)" y="2.3">20</text>
<text transform="translate(594.7,290.7) rotate(38)" y="2.3">10</text>
<text transform="translate(611.0,304.0) rotate(38)" y="2.3">0</text>
<text transform="translate(629.6,317.7) rotate(38)" y="2.3">-10</text>
<text transform="translate(646.7,320.2) rotate(-30)" y="2.3">-20</text>
<text transform="translate(658.4,311.0) rotate(-30)" y="2.3">0</text>
<text transform="translate(672.1,304.3) rotate(-30)" y="2.3">20</text>
<text transform="translate(685.9,298.2) rotate(-30)" y="2.3">40</text>
<text transform="translate(699.1,292.0) rotate(-30)" y="2.3">60</text>
<text transform="translate(711.0,285.9) rotate(-30)" y="2.3">80</text>
<text transform="translate(724.2,279.2) rotate(-30)" y="2.3">100</text>
<text transform="translate(737.4,273.1) rotate(-30)" y="2.3">120</text>
<text transform="translate(749.6,267.6) rotate(-30)" y="2.3">140</text>
<text transform="translate(761.6,262.0) rotate(-30)" y="2.3">160</text>
<text transform="translate(773.8,255.9) rotate(-30)" y="2.3">180</text>
</g>
<g font-family="Liberation Sans, sans-serif" font-size="10.6" fill="#111" text-anchor="middle" stroke="#111" stroke-width="0.3">
<text transform="translate(514.2,187) rotate(-90)" y="4" font-size="10.5" stroke-width="0.4">Oleic acid</text>
<text transform="translate(561.5,292) rotate(38)" y="4" font-style="italic">t (s)</text>
<text transform="translate(717.2,307.4) rotate(-28)" y="4" font-style="italic">T (°C)</text>
</g>
<circle cx="527.0" cy="16.0" r="15.4" fill="#1a78f0" stroke="#0f62d0" stroke-width="1.2"/>
<text x="527.0" y="22.2" font-family="Liberation Sans, sans-serif" font-size="17.4" font-weight="bold" fill="#fff" text-anchor="middle">B</text>
<defs><linearGradient id="bg" gradientUnits="userSpaceOnUse" x1="35" y1="0" x2="203" y2="0"><stop offset="0" stop-color="#e4f0fd"/><stop offset="0.35" stop-color="#c6dffb"/><stop offset="1" stop-color="#78b2f5"/></linearGradient></defs>
<path d="M35.4,79.5 H426.6 M35.4,128.5 H426.6 M35.4,176.5 H426.6 M35.4,225.5 H426.6 M35.4,274.5 H426.6" stroke="#d9d9d9" stroke-width="1" fill="none"/>
<rect x="35.4" y="59.8" width="167.5" height="39.0" fill="url(#bg)" stroke="#86aeea" stroke-width="1.2"/>
<rect x="35.4" y="108.2" width="136.6" height="39.3" fill="url(#bg)" stroke="#86aeea" stroke-width="1.2"/>
<rect x="35.4" y="157.2" width="112.2" height="38.7" fill="url(#bg)" stroke="#86aeea" stroke-width="1.2"/>
<rect x="35.4" y="205.8" width="82.2" height="38.8" fill="url(#bg)" stroke="#86aeea" stroke-width="1.2"/>
<rect x="35.4" y="254.3" width="70.8" height="38.8" fill="url(#bg)" stroke="#86aeea" stroke-width="1.2"/>
<path d="M348.5,43.1 V310.3" stroke="#f2404c" stroke-width="1.15"/>
<rect x="35.4" y="43.1" width="391.2" height="267.2" fill="none" stroke="#383838" stroke-width="1.3"/>
<path d="M35.4,43.1 v2.6 M35.4,310.3 v-2.6 M46.6,43.1 v1.4 M46.6,310.3 v-1.4 M57.8,43.1 v1.4 M57.8,310.3 v-1.4 M69.0,43.1 v1.4 M69.0,310.3 v-1.4 M80.2,43.1 v1.4 M80.2,310.3 v-1.4 M91.4,43.1 v2.6 M91.4,310.3 v-2.6 M102.6,43.1 v1.4 M102.6,310.3 v-1.4 M113.8,43.1 v1.4 M113.8,310.3 v-1.4 M125.0,43.1 v1.4 M125.0,310.3 v-1.4 M136.2,43.1 v1.4 M136.2,310.3 v-1.4 M147.4,43.1 v2.6 M147.4,310.3 v-2.6 M158.6,43.1 v1.4 M158.6,310.3 v-1.4 M169.8,43.1 v1.4 M169.8,310.3 v-1.4 M181.0,43.1 v1.4 M181.0,310.3 v-1.4 M192.2,43.1 v1.4 M192.2,310.3 v-1.4 M203.4,43.1 v2.6 M203.4,310.3 v-2.6 M214.6,43.1 v1.4 M214.6,310.3 v-1.4 M225.8,43.1 v1.4 M225.8,310.3 v-1.4 M237.0,43.1 v1.4 M237.0,310.3 v-1.4 M248.2,43.1 v1.4 M248.2,310.3 v-1.4 M259.4,43.1 v2.6 M259.4,310.3 v-2.6 M270.6,43.1 v1.4 M270.6,310.3 v-1.4 M281.8,43.1 v1.4 M281.8,310.3 v-1.4 M293.0,43.1 v1.4 M293.0,310.3 v-1.4 M304.2,43.1 v1.4 M304.2,310.3 v-1.4 M315.4,43.1 v2.6 M315.4,310.3 v-2.6 M326.6,43.1 v1.4 M326.6,310.3 v-1.4 M337.8,43.1 v1.4 M337.8,310.3 v-1.4 M349.0,43.1 v1.4 M349.0,310.3 v-1.4 M360.2,43.1 v1.4 M360.2,310.3 v-1.4 M371.4,43.1 v2.6 M371.4,310.3 v-2.6 M382.6,43.1 v1.4 M382.6,310.3 v-1.4 M393.8,43.1 v1.4 M393.8,310.3 v-1.4 M405.0,43.1 v1.4 M405.0,310.3 v-1.4 M416.2,43.1 v1.4 M416.2,310.3 v-1.4 M427.4,43.1 v2.6 M427.4,310.3 v-2.6 M35.4,79.5 h3 M426.6,79.5 h-2.5 M35.4,67.0 h1.6 M426.6,67.0 h-1.6 M35.4,91.4 h1.6 M426.6,91.4 h-1.6 M35.4,54.8 h1.6 M426.6,54.8 h-1.6 M35.4,128.5 h3 M426.6,128.5 h-2.5 M35.4,115.9 h1.6 M426.6,115.9 h-1.6 M35.4,140.3 h1.6 M426.6,140.3 h-1.6 M35.4,103.7 h1.6 M426.6,103.7 h-1.6 M35.4,176.5 h3 M426.6,176.5 h-2.5 M35.4,164.3 h1.6 M426.6,164.3 h-1.6 M35.4,188.7 h1.6 M426.6,188.7 h-1.6 M35.4,152.1 h1.6 M426.6,152.1 h-1.6 M35.4,225.5 h3 M426.6,225.5 h-2.5 M35.4,213.1 h1.6 M426.6,213.1 h-1.6 M35.4,237.5 h1.6 M426.6,237.5 h-1.6 M35.4,200.9 h1.6 M426.6,200.9 h-1.6 M35.4,274.5 h3 M426.6,274.5 h-2.5 M35.4,261.4 h1.6 M426.6,261.4 h-1.6 M35.4,285.8 h1.6 M426.6,285.8 h-1.6 M35.4,249.2 h1.6 M426.6,249.2 h-1.6" stroke="#222" stroke-width="0.8" fill="none"/>
<g font-family="Liberation Sans, sans-serif" font-size="9.8" fill="#111">
<text x="204.7" y="82.8">0.996</text>
<text x="173.8" y="131.7">0.721</text>
<text x="149.4" y="180.1">-0.507</text>
<text x="119.4" y="228.9">-0.237</text>
<text x="108.0" y="277.2">0.132</text>
<text x="336" y="325.2">p=.05</text>
<text x="230.5" y="344" text-anchor="middle" font-size="10.1">Standardized Effect Estimate (Absolute Value)</text>
</g>
<g font-family="Liberation Sans, sans-serif" font-size="16.5" fill="#111" stroke="#111" stroke-width="0.3">
<text x="5.5" y="87" textLength="5.8" lengthAdjust="spacingAndGlyphs">t</text><text x="12.3" y="81.7" font-size="10" textLength="5.3" lengthAdjust="spacingAndGlyphs">2</text>
<text x="4" y="132" textLength="8.7" lengthAdjust="spacingAndGlyphs">T</text><text x="13.7" y="126.7" font-size="10" textLength="5.1" lengthAdjust="spacingAndGlyphs">2</text>
<text x="1.4" y="183.6" textLength="21" lengthAdjust="spacingAndGlyphs">Txt</text>
<text x="7.2" y="236.4" textLength="9" lengthAdjust="spacingAndGlyphs">T</text>
<text x="8.7" y="281.8" textLength="5.8" lengthAdjust="spacingAndGlyphs">t</text>
</g>
<g font-family="Liberation Sans, sans-serif" font-size="12" fill="#111" stroke="#111" stroke-width="0.2">
<text x="185.7" y="244.2" font-size="12.2" textLength="98" lengthAdjust="spacingAndGlyphs">T: Temperature (°C)</text>
<text x="185.7" y="260.1" font-size="12.2" textLength="149.6" lengthAdjust="spacingAndGlyphs">t: Thermal processing time (s)</text>
</g>
<circle cx="79.8" cy="16.0" r="15.4" fill="#1a78f0" stroke="#0f62d0" stroke-width="1.2"/>
<text x="79.8" y="22.2" font-family="Liberation Sans, sans-serif" font-size="17.4" font-weight="bold" fill="#fff" text-anchor="middle">A</text>
</svg></body></html>
